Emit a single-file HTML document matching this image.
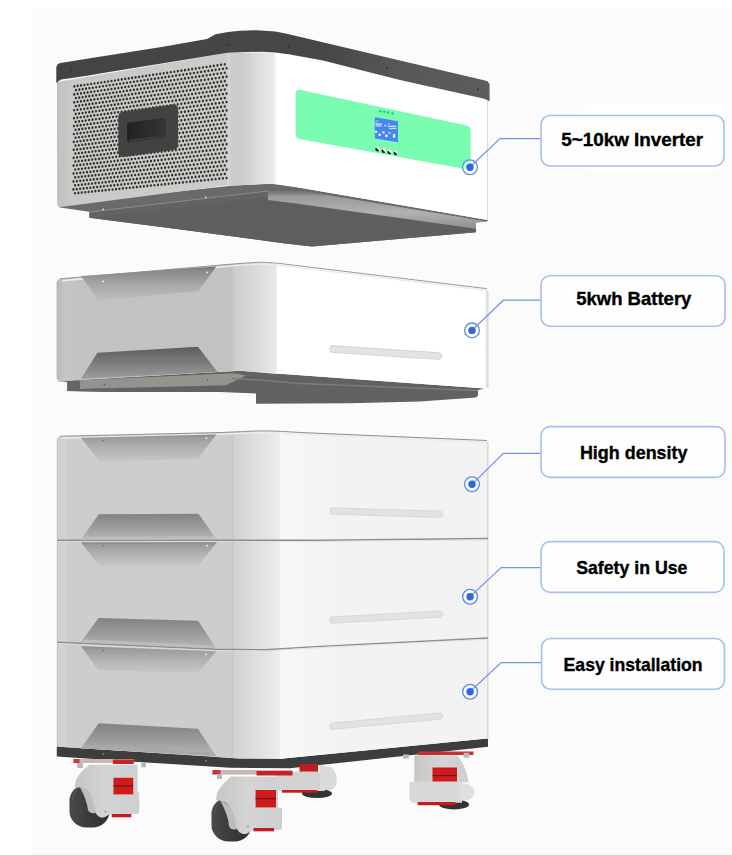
<!DOCTYPE html>
<html><head><meta charset="utf-8"><title>Inverter and battery stack</title>
<style>
html,body{margin:0;padding:0;background:#fff;}
body{width:732px;height:855px;overflow:hidden;font-family:"Liberation Sans",sans-serif;}
svg{display:block;}
</style></head><body>
<svg width="732" height="855" viewBox="0 0 732 855"><defs><linearGradient id="gBand" x1="57" y1="0" x2="490" y2="0" gradientUnits="userSpaceOnUse"><stop offset="0" stop-color="#444444"/><stop offset="0.62" stop-color="#474747"/><stop offset="0.78" stop-color="#575757"/><stop offset="1" stop-color="#5d5d5d"/></linearGradient><linearGradient id="gInvLeft" x1="57" y1="0" x2="228" y2="0" gradientUnits="userSpaceOnUse"><stop offset="0" stop-color="#b9b9b9"/><stop offset="0.01" stop-color="#c2c2c2"/><stop offset="0.08" stop-color="#c8c8c8"/><stop offset="1" stop-color="#cdcdcd"/></linearGradient><linearGradient id="gInvCorner" x1="228" y1="0" x2="276" y2="0" gradientUnits="userSpaceOnUse"><stop offset="0" stop-color="#d6d6d6"/><stop offset="0.08" stop-color="#cbcbcb"/><stop offset="0.35" stop-color="#cdcdcd"/><stop offset="0.65" stop-color="#dedede"/><stop offset="0.95" stop-color="#ececec"/><stop offset="1" stop-color="#f8f8f8"/></linearGradient><linearGradient id="gBatLeft" x1="56.5" y1="0" x2="240" y2="0" gradientUnits="userSpaceOnUse"><stop offset="0" stop-color="#b0b0b0"/><stop offset="0.012" stop-color="#bdbdbd"/><stop offset="0.05" stop-color="#c5c5c5"/><stop offset="0.15" stop-color="#c2c2c2"/><stop offset="1" stop-color="#c2c2c2"/></linearGradient><linearGradient id="gBatCorner" x1="222" y1="0" x2="277.5" y2="0" gradientUnits="userSpaceOnUse"><stop offset="0" stop-color="#c2c2c2"/><stop offset="0.18" stop-color="#c2c2c2"/><stop offset="0.2" stop-color="#c6c6c6"/><stop offset="0.23" stop-color="#cdcdcd"/><stop offset="0.6" stop-color="#dadada"/><stop offset="0.97" stop-color="#e8e8e8"/><stop offset="1" stop-color="#f6f6f6"/></linearGradient><linearGradient id="gStkLeft" x1="56.8" y1="0" x2="232" y2="0" gradientUnits="userSpaceOnUse"><stop offset="0" stop-color="#bdbdbd"/><stop offset="0.01" stop-color="#d0d0d0"/><stop offset="0.05" stop-color="#d3d3d3"/><stop offset="0.065" stop-color="#cdcdcd"/><stop offset="1" stop-color="#cdcdcd"/></linearGradient><linearGradient id="gStkCorner" x1="231" y1="0" x2="280.5" y2="0" gradientUnits="userSpaceOnUse"><stop offset="0" stop-color="#cbcbcb"/><stop offset="0.03" stop-color="#c8c8c8"/><stop offset="0.07" stop-color="#d2d2d2"/><stop offset="0.4" stop-color="#dcdcdc"/><stop offset="0.7" stop-color="#e4e4e4"/><stop offset="0.98" stop-color="#ececec"/><stop offset="1" stop-color="#f6f6f6"/></linearGradient><linearGradient id="gStkFront" x1="280" y1="0" x2="488" y2="0" gradientUnits="userSpaceOnUse"><stop offset="0" stop-color="#f7f7f7"/><stop offset="0.25" stop-color="#f3f3f3"/><stop offset="1" stop-color="#f2f2f2"/></linearGradient><linearGradient id="gRedge" x1="0" y1="0" x2="1" y2="0"><stop offset="0" stop-color="#f4f4f4"/><stop offset="0.5" stop-color="#e2e2e2"/><stop offset="1" stop-color="#d2d2d2"/></linearGradient><linearGradient id="gHandle" x1="127" y1="0" x2="166" y2="0" gradientUnits="userSpaceOnUse"><stop offset="0" stop-color="#222222"/><stop offset="0.45" stop-color="#2a2a2a"/><stop offset="1" stop-color="#363636"/></linearGradient><linearGradient id="gTT" x1="0" y1="0" x2="0" y2="1"><stop offset="0" stop-color="#888888"/><stop offset="0.12" stop-color="#9c9c9c"/><stop offset="0.55" stop-color="#b4b4b4"/><stop offset="1" stop-color="#c6c6c6"/></linearGradient><linearGradient id="gTTb" x1="0" y1="0" x2="0" y2="1"><stop offset="0" stop-color="#727272"/><stop offset="0.12" stop-color="#888888"/><stop offset="0.55" stop-color="#a8a8a8"/><stop offset="1" stop-color="#bebebe"/></linearGradient><linearGradient id="gTB" x1="0" y1="0" x2="0" y2="1"><stop offset="0" stop-color="#828282"/><stop offset="0.5" stop-color="#9a9a9a"/><stop offset="0.88" stop-color="#b0b0b0"/><stop offset="1" stop-color="#bcbcbc"/></linearGradient><linearGradient id="gTBb" x1="0" y1="0" x2="0" y2="1"><stop offset="0" stop-color="#5c5c5c"/><stop offset="0.5" stop-color="#7c7c7c"/><stop offset="1" stop-color="#9c9c9c"/></linearGradient><linearGradient id="gLip" x1="0" y1="0" x2="0" y2="1"><stop offset="0" stop-color="#5e5e5e"/><stop offset="0.2" stop-color="#9a9a9a"/><stop offset="0.6" stop-color="#b2b2b2"/><stop offset="1" stop-color="#8e8e8e"/></linearGradient>
 <pattern id="grill" x="0" y="0" width="3.45" height="8" patternUnits="userSpaceOnUse" patternTransform="translate(74,84) skewY(-7.6)">
  <rect width="3.45" height="8" fill="#d2d2d2"/>
  <circle cx="0.9" cy="1.2" r="1.12" fill="#3b3d2c"/>
  <circle cx="2.625" cy="5.2" r="1.12" fill="#3b3d2c"/>
 </pattern>
 <radialGradient id="gBtn" cx="0.4" cy="0.4" r="0.6">
  <stop offset="0" stop-color="#ffffff"/>
  <stop offset="1" stop-color="#1a1a1a"/>
 </radialGradient>
 <linearGradient id="gBtn2" x1="0.2" y1="0.8" x2="0.8" y2="0.2">
  <stop offset="0" stop-color="#111"/><stop offset="0.45" stop-color="#222"/><stop offset="0.55" stop-color="#f4f4f4"/><stop offset="1" stop-color="#ffffff"/>
 </linearGradient>
 <linearGradient id="gTire" x1="0" y1="0" x2="1" y2="0">
  <stop offset="0" stop-color="#4a4a4a"/><stop offset="0.5" stop-color="#3a3a3a"/><stop offset="1" stop-color="#2e2e2e"/>
 </linearGradient>
 <linearGradient id="gBrk" x1="0" y1="0" x2="1" y2="0">
  <stop offset="0" stop-color="#c6c6c6"/><stop offset="0.5" stop-color="#d4d4d4"/><stop offset="1" stop-color="#cfcfcf"/>
 </linearGradient>
</defs>
<rect x="0" y="0" width="732" height="855" fill="#ffffff"/>
<rect x="32" y="8" width="700" height="847" fill="#fbfbfb"/>
<rect x="32" y="854" width="700" height="1" fill="#f4f4f4"/>
<rect x="582" y="103" width="143" height="68" rx="9" fill="#ffffff"/>
<polygon points="57.7,205.0 130.0,196.5 233.7,185.4 271.0,183.7 300.0,187.8 488.0,220.0 487.0,221.5 476.0,222.5 476.0,232.3 312.0,246.5 285.0,243.4 182.5,229.8 89.3,217.8 89.3,211.8 59.8,207.4" fill="#6a6a6a"/>
<polyline points="89.5,212.0 268.0,191.0" fill="none" stroke="#8a8a8a" stroke-width="1"/>
<polygon points="89.5,213.0 245.0,194.5 262.0,192.5 270.0,193.0 262.0,197.0 240.0,200.5 89.5,217.5" fill="#636363"/>
<polygon points="89.3,217.5 240.0,200.5 262.0,197.0 272.0,196.5 300.0,204.0 476.0,228.7 476.0,232.3 312.0,246.5 285.0,243.4 182.5,229.8 89.3,217.8" fill="#5f5f5f"/>
<circle cx="103.2" cy="209.3" r="0.9" fill="#e8e8e8"/>
<circle cx="205.7" cy="197.3" r="0.9" fill="#e8e8e8"/>
<polygon points="268.0,188.5 300.0,190.5 487.0,221.5 476.0,222.5 476.0,228.7 300.0,204.0 268.0,200.0" fill="url(#gLip)"/>
<path d="M57,82 L228,52.8 L228,185.3 L61,207 Q57.2,207.3 57.2,203 Z" fill="url(#gInvLeft)"/>
<polygon points="227.5,52.8 276.5,52.5 276.5,183.6 271.0,183.7 233.7,185.4 227.5,185.4" fill="url(#gInvCorner)"/>
<polygon points="276.0,52.5 489.0,101.0 489.0,220.2 300.0,187.8 276.0,183.6" fill="#ffffff"/>
<line x1="487.6" y1="101" x2="487.6" y2="220" stroke="#d9d9d9" stroke-width="1.2"/>
<polygon points="73.5,84.6 227.5,61.8 227.5,180.0 72.5,195.5" fill="#cbcbce"/>
<path d="M73.20,86.46a1.12,1.35 0 1,0 2.24,0a1.12,1.35 0 1,0 -2.24,0M76.54,85.97a1.12,1.35 0 1,0 2.24,0a1.12,1.35 0 1,0 -2.24,0M79.90,85.47a1.12,1.35 0 1,0 2.24,0a1.12,1.35 0 1,0 -2.24,0M83.26,84.98a1.12,1.35 0 1,0 2.24,0a1.12,1.35 0 1,0 -2.24,0M86.62,84.48a1.12,1.35 0 1,0 2.24,0a1.12,1.35 0 1,0 -2.24,0M90.00,83.98a1.12,1.35 0 1,0 2.24,0a1.12,1.35 0 1,0 -2.24,0M93.38,83.49a1.12,1.35 0 1,0 2.24,0a1.12,1.35 0 1,0 -2.24,0M96.77,82.99a1.12,1.35 0 1,0 2.24,0a1.12,1.35 0 1,0 -2.24,0M100.16,82.49a1.12,1.35 0 1,0 2.24,0a1.12,1.35 0 1,0 -2.24,0M103.57,81.99a1.12,1.35 0 1,0 2.24,0a1.12,1.35 0 1,0 -2.24,0M106.98,81.49a1.12,1.35 0 1,0 2.24,0a1.12,1.35 0 1,0 -2.24,0M110.40,80.98a1.12,1.35 0 1,0 2.24,0a1.12,1.35 0 1,0 -2.24,0M113.82,80.48a1.12,1.35 0 1,0 2.24,0a1.12,1.35 0 1,0 -2.24,0M117.26,79.97a1.12,1.35 0 1,0 2.24,0a1.12,1.35 0 1,0 -2.24,0M120.70,79.47a1.12,1.35 0 1,0 2.24,0a1.12,1.35 0 1,0 -2.24,0M124.14,78.96a1.12,1.35 0 1,0 2.24,0a1.12,1.35 0 1,0 -2.24,0M127.60,78.45a1.12,1.35 0 1,0 2.24,0a1.12,1.35 0 1,0 -2.24,0M131.06,77.94a1.12,1.35 0 1,0 2.24,0a1.12,1.35 0 1,0 -2.24,0M134.53,77.43a1.12,1.35 0 1,0 2.24,0a1.12,1.35 0 1,0 -2.24,0M138.01,76.92a1.12,1.35 0 1,0 2.24,0a1.12,1.35 0 1,0 -2.24,0M141.49,76.41a1.12,1.35 0 1,0 2.24,0a1.12,1.35 0 1,0 -2.24,0M144.98,75.89a1.12,1.35 0 1,0 2.24,0a1.12,1.35 0 1,0 -2.24,0M148.48,75.38a1.12,1.35 0 1,0 2.24,0a1.12,1.35 0 1,0 -2.24,0M151.99,74.86a1.12,1.35 0 1,0 2.24,0a1.12,1.35 0 1,0 -2.24,0M155.50,74.34a1.12,1.35 0 1,0 2.24,0a1.12,1.35 0 1,0 -2.24,0M159.02,73.83a1.12,1.35 0 1,0 2.24,0a1.12,1.35 0 1,0 -2.24,0M162.55,73.31a1.12,1.35 0 1,0 2.24,0a1.12,1.35 0 1,0 -2.24,0M166.08,72.79a1.12,1.35 0 1,0 2.24,0a1.12,1.35 0 1,0 -2.24,0M169.63,72.26a1.12,1.35 0 1,0 2.24,0a1.12,1.35 0 1,0 -2.24,0M173.18,71.74a1.12,1.35 0 1,0 2.24,0a1.12,1.35 0 1,0 -2.24,0M176.73,71.22a1.12,1.35 0 1,0 2.24,0a1.12,1.35 0 1,0 -2.24,0M180.30,70.69a1.12,1.35 0 1,0 2.24,0a1.12,1.35 0 1,0 -2.24,0M183.87,70.17a1.12,1.35 0 1,0 2.24,0a1.12,1.35 0 1,0 -2.24,0M187.45,69.64a1.12,1.35 0 1,0 2.24,0a1.12,1.35 0 1,0 -2.24,0M191.03,69.11a1.12,1.35 0 1,0 2.24,0a1.12,1.35 0 1,0 -2.24,0M194.63,68.58a1.12,1.35 0 1,0 2.24,0a1.12,1.35 0 1,0 -2.24,0M198.23,68.05a1.12,1.35 0 1,0 2.24,0a1.12,1.35 0 1,0 -2.24,0M201.84,67.52a1.12,1.35 0 1,0 2.24,0a1.12,1.35 0 1,0 -2.24,0M205.45,66.99a1.12,1.35 0 1,0 2.24,0a1.12,1.35 0 1,0 -2.24,0M209.07,66.46a1.12,1.35 0 1,0 2.24,0a1.12,1.35 0 1,0 -2.24,0M212.70,65.92a1.12,1.35 0 1,0 2.24,0a1.12,1.35 0 1,0 -2.24,0M216.34,65.39a1.12,1.35 0 1,0 2.24,0a1.12,1.35 0 1,0 -2.24,0M219.98,64.85a1.12,1.35 0 1,0 2.24,0a1.12,1.35 0 1,0 -2.24,0M223.64,64.31a1.12,1.35 0 1,0 2.24,0a1.12,1.35 0 1,0 -2.24,0M74.83,90.18a1.12,1.35 0 1,0 2.24,0a1.12,1.35 0 1,0 -2.24,0M78.18,89.69a1.12,1.35 0 1,0 2.24,0a1.12,1.35 0 1,0 -2.24,0M81.54,89.20a1.12,1.35 0 1,0 2.24,0a1.12,1.35 0 1,0 -2.24,0M84.91,88.71a1.12,1.35 0 1,0 2.24,0a1.12,1.35 0 1,0 -2.24,0M88.28,88.22a1.12,1.35 0 1,0 2.24,0a1.12,1.35 0 1,0 -2.24,0M91.66,87.73a1.12,1.35 0 1,0 2.24,0a1.12,1.35 0 1,0 -2.24,0M95.04,87.24a1.12,1.35 0 1,0 2.24,0a1.12,1.35 0 1,0 -2.24,0M98.44,86.74a1.12,1.35 0 1,0 2.24,0a1.12,1.35 0 1,0 -2.24,0M101.84,86.25a1.12,1.35 0 1,0 2.24,0a1.12,1.35 0 1,0 -2.24,0M105.25,85.75a1.12,1.35 0 1,0 2.24,0a1.12,1.35 0 1,0 -2.24,0M108.66,85.26a1.12,1.35 0 1,0 2.24,0a1.12,1.35 0 1,0 -2.24,0M112.08,84.76a1.12,1.35 0 1,0 2.24,0a1.12,1.35 0 1,0 -2.24,0M115.51,84.26a1.12,1.35 0 1,0 2.24,0a1.12,1.35 0 1,0 -2.24,0M118.95,83.76a1.12,1.35 0 1,0 2.24,0a1.12,1.35 0 1,0 -2.24,0M122.40,83.26a1.12,1.35 0 1,0 2.24,0a1.12,1.35 0 1,0 -2.24,0M125.85,82.76a1.12,1.35 0 1,0 2.24,0a1.12,1.35 0 1,0 -2.24,0M129.31,82.25a1.12,1.35 0 1,0 2.24,0a1.12,1.35 0 1,0 -2.24,0M132.77,81.75a1.12,1.35 0 1,0 2.24,0a1.12,1.35 0 1,0 -2.24,0M136.25,81.24a1.12,1.35 0 1,0 2.24,0a1.12,1.35 0 1,0 -2.24,0M139.73,80.74a1.12,1.35 0 1,0 2.24,0a1.12,1.35 0 1,0 -2.24,0M143.22,80.23a1.12,1.35 0 1,0 2.24,0a1.12,1.35 0 1,0 -2.24,0M146.71,79.72a1.12,1.35 0 1,0 2.24,0a1.12,1.35 0 1,0 -2.24,0M150.22,79.21a1.12,1.35 0 1,0 2.24,0a1.12,1.35 0 1,0 -2.24,0M153.73,78.70a1.12,1.35 0 1,0 2.24,0a1.12,1.35 0 1,0 -2.24,0M157.24,78.19a1.12,1.35 0 1,0 2.24,0a1.12,1.35 0 1,0 -2.24,0M160.77,77.68a1.12,1.35 0 1,0 2.24,0a1.12,1.35 0 1,0 -2.24,0M164.30,77.16a1.12,1.35 0 1,0 2.24,0a1.12,1.35 0 1,0 -2.24,0M167.84,76.65a1.12,1.35 0 1,0 2.24,0a1.12,1.35 0 1,0 -2.24,0M171.39,76.13a1.12,1.35 0 1,0 2.24,0a1.12,1.35 0 1,0 -2.24,0M174.94,75.61a1.12,1.35 0 1,0 2.24,0a1.12,1.35 0 1,0 -2.24,0M178.50,75.10a1.12,1.35 0 1,0 2.24,0a1.12,1.35 0 1,0 -2.24,0M182.07,74.58a1.12,1.35 0 1,0 2.24,0a1.12,1.35 0 1,0 -2.24,0M185.65,74.06a1.12,1.35 0 1,0 2.24,0a1.12,1.35 0 1,0 -2.24,0M189.23,73.54a1.12,1.35 0 1,0 2.24,0a1.12,1.35 0 1,0 -2.24,0M192.82,73.01a1.12,1.35 0 1,0 2.24,0a1.12,1.35 0 1,0 -2.24,0M196.42,72.49a1.12,1.35 0 1,0 2.24,0a1.12,1.35 0 1,0 -2.24,0M200.02,71.97a1.12,1.35 0 1,0 2.24,0a1.12,1.35 0 1,0 -2.24,0M203.64,71.44a1.12,1.35 0 1,0 2.24,0a1.12,1.35 0 1,0 -2.24,0M207.26,70.91a1.12,1.35 0 1,0 2.24,0a1.12,1.35 0 1,0 -2.24,0M210.88,70.39a1.12,1.35 0 1,0 2.24,0a1.12,1.35 0 1,0 -2.24,0M214.52,69.86a1.12,1.35 0 1,0 2.24,0a1.12,1.35 0 1,0 -2.24,0M218.16,69.33a1.12,1.35 0 1,0 2.24,0a1.12,1.35 0 1,0 -2.24,0M221.81,68.80a1.12,1.35 0 1,0 2.24,0a1.12,1.35 0 1,0 -2.24,0M225.46,68.27a1.12,1.35 0 1,0 2.24,0a1.12,1.35 0 1,0 -2.24,0M73.13,94.38a1.12,1.35 0 1,0 2.24,0a1.12,1.35 0 1,0 -2.24,0M76.47,93.90a1.12,1.35 0 1,0 2.24,0a1.12,1.35 0 1,0 -2.24,0M79.83,93.42a1.12,1.35 0 1,0 2.24,0a1.12,1.35 0 1,0 -2.24,0M83.19,92.94a1.12,1.35 0 1,0 2.24,0a1.12,1.35 0 1,0 -2.24,0M86.56,92.45a1.12,1.35 0 1,0 2.24,0a1.12,1.35 0 1,0 -2.24,0M89.93,91.97a1.12,1.35 0 1,0 2.24,0a1.12,1.35 0 1,0 -2.24,0M93.32,91.48a1.12,1.35 0 1,0 2.24,0a1.12,1.35 0 1,0 -2.24,0M96.71,90.99a1.12,1.35 0 1,0 2.24,0a1.12,1.35 0 1,0 -2.24,0M100.11,90.50a1.12,1.35 0 1,0 2.24,0a1.12,1.35 0 1,0 -2.24,0M103.51,90.01a1.12,1.35 0 1,0 2.24,0a1.12,1.35 0 1,0 -2.24,0M106.92,89.52a1.12,1.35 0 1,0 2.24,0a1.12,1.35 0 1,0 -2.24,0M110.34,89.03a1.12,1.35 0 1,0 2.24,0a1.12,1.35 0 1,0 -2.24,0M113.77,88.54a1.12,1.35 0 1,0 2.24,0a1.12,1.35 0 1,0 -2.24,0M117.21,88.05a1.12,1.35 0 1,0 2.24,0a1.12,1.35 0 1,0 -2.24,0M120.65,87.55a1.12,1.35 0 1,0 2.24,0a1.12,1.35 0 1,0 -2.24,0M124.10,87.06a1.12,1.35 0 1,0 2.24,0a1.12,1.35 0 1,0 -2.24,0M127.55,86.56a1.12,1.35 0 1,0 2.24,0a1.12,1.35 0 1,0 -2.24,0M131.02,86.06a1.12,1.35 0 1,0 2.24,0a1.12,1.35 0 1,0 -2.24,0M134.49,85.56a1.12,1.35 0 1,0 2.24,0a1.12,1.35 0 1,0 -2.24,0M137.97,85.06a1.12,1.35 0 1,0 2.24,0a1.12,1.35 0 1,0 -2.24,0M141.45,84.56a1.12,1.35 0 1,0 2.24,0a1.12,1.35 0 1,0 -2.24,0M144.94,84.06a1.12,1.35 0 1,0 2.24,0a1.12,1.35 0 1,0 -2.24,0M148.45,83.56a1.12,1.35 0 1,0 2.24,0a1.12,1.35 0 1,0 -2.24,0M151.95,83.05a1.12,1.35 0 1,0 2.24,0a1.12,1.35 0 1,0 -2.24,0M155.47,82.55a1.12,1.35 0 1,0 2.24,0a1.12,1.35 0 1,0 -2.24,0M158.99,82.04a1.12,1.35 0 1,0 2.24,0a1.12,1.35 0 1,0 -2.24,0M162.52,81.53a1.12,1.35 0 1,0 2.24,0a1.12,1.35 0 1,0 -2.24,0M166.06,81.02a1.12,1.35 0 1,0 2.24,0a1.12,1.35 0 1,0 -2.24,0M169.60,80.51a1.12,1.35 0 1,0 2.24,0a1.12,1.35 0 1,0 -2.24,0M173.15,80.00a1.12,1.35 0 1,0 2.24,0a1.12,1.35 0 1,0 -2.24,0M176.71,79.49a1.12,1.35 0 1,0 2.24,0a1.12,1.35 0 1,0 -2.24,0M180.28,78.98a1.12,1.35 0 1,0 2.24,0a1.12,1.35 0 1,0 -2.24,0M183.85,78.47a1.12,1.35 0 1,0 2.24,0a1.12,1.35 0 1,0 -2.24,0M187.43,77.95a1.12,1.35 0 1,0 2.24,0a1.12,1.35 0 1,0 -2.24,0M191.02,77.44a1.12,1.35 0 1,0 2.24,0a1.12,1.35 0 1,0 -2.24,0M194.61,76.92a1.12,1.35 0 1,0 2.24,0a1.12,1.35 0 1,0 -2.24,0M198.21,76.40a1.12,1.35 0 1,0 2.24,0a1.12,1.35 0 1,0 -2.24,0M201.82,75.88a1.12,1.35 0 1,0 2.24,0a1.12,1.35 0 1,0 -2.24,0M205.44,75.36a1.12,1.35 0 1,0 2.24,0a1.12,1.35 0 1,0 -2.24,0M209.07,74.84a1.12,1.35 0 1,0 2.24,0a1.12,1.35 0 1,0 -2.24,0M212.70,74.32a1.12,1.35 0 1,0 2.24,0a1.12,1.35 0 1,0 -2.24,0M216.34,73.80a1.12,1.35 0 1,0 2.24,0a1.12,1.35 0 1,0 -2.24,0M219.98,73.27a1.12,1.35 0 1,0 2.24,0a1.12,1.35 0 1,0 -2.24,0M223.64,72.75a1.12,1.35 0 1,0 2.24,0a1.12,1.35 0 1,0 -2.24,0M74.76,98.11a1.12,1.35 0 1,0 2.24,0a1.12,1.35 0 1,0 -2.24,0M78.12,97.63a1.12,1.35 0 1,0 2.24,0a1.12,1.35 0 1,0 -2.24,0M81.47,97.15a1.12,1.35 0 1,0 2.24,0a1.12,1.35 0 1,0 -2.24,0M84.84,96.68a1.12,1.35 0 1,0 2.24,0a1.12,1.35 0 1,0 -2.24,0M88.21,96.20a1.12,1.35 0 1,0 2.24,0a1.12,1.35 0 1,0 -2.24,0M91.59,95.72a1.12,1.35 0 1,0 2.24,0a1.12,1.35 0 1,0 -2.24,0M94.98,95.24a1.12,1.35 0 1,0 2.24,0a1.12,1.35 0 1,0 -2.24,0M98.38,94.75a1.12,1.35 0 1,0 2.24,0a1.12,1.35 0 1,0 -2.24,0M101.78,94.27a1.12,1.35 0 1,0 2.24,0a1.12,1.35 0 1,0 -2.24,0M105.19,93.79a1.12,1.35 0 1,0 2.24,0a1.12,1.35 0 1,0 -2.24,0M108.61,93.30a1.12,1.35 0 1,0 2.24,0a1.12,1.35 0 1,0 -2.24,0M112.03,92.81a1.12,1.35 0 1,0 2.24,0a1.12,1.35 0 1,0 -2.24,0M115.46,92.33a1.12,1.35 0 1,0 2.24,0a1.12,1.35 0 1,0 -2.24,0M118.90,91.84a1.12,1.35 0 1,0 2.24,0a1.12,1.35 0 1,0 -2.24,0M122.35,91.35a1.12,1.35 0 1,0 2.24,0a1.12,1.35 0 1,0 -2.24,0M125.80,90.86a1.12,1.35 0 1,0 2.24,0a1.12,1.35 0 1,0 -2.24,0M129.26,90.37a1.12,1.35 0 1,0 2.24,0a1.12,1.35 0 1,0 -2.24,0M132.73,89.87a1.12,1.35 0 1,0 2.24,0a1.12,1.35 0 1,0 -2.24,0M136.21,89.38a1.12,1.35 0 1,0 2.24,0a1.12,1.35 0 1,0 -2.24,0M139.69,88.89a1.12,1.35 0 1,0 2.24,0a1.12,1.35 0 1,0 -2.24,0M143.18,88.39a1.12,1.35 0 1,0 2.24,0a1.12,1.35 0 1,0 -2.24,0M146.68,87.89a1.12,1.35 0 1,0 2.24,0a1.12,1.35 0 1,0 -2.24,0M150.18,87.40a1.12,1.35 0 1,0 2.24,0a1.12,1.35 0 1,0 -2.24,0M153.69,86.90a1.12,1.35 0 1,0 2.24,0a1.12,1.35 0 1,0 -2.24,0M157.21,86.40a1.12,1.35 0 1,0 2.24,0a1.12,1.35 0 1,0 -2.24,0M160.74,85.90a1.12,1.35 0 1,0 2.24,0a1.12,1.35 0 1,0 -2.24,0M164.27,85.40a1.12,1.35 0 1,0 2.24,0a1.12,1.35 0 1,0 -2.24,0M167.81,84.89a1.12,1.35 0 1,0 2.24,0a1.12,1.35 0 1,0 -2.24,0M171.36,84.39a1.12,1.35 0 1,0 2.24,0a1.12,1.35 0 1,0 -2.24,0M174.92,83.88a1.12,1.35 0 1,0 2.24,0a1.12,1.35 0 1,0 -2.24,0M178.48,83.38a1.12,1.35 0 1,0 2.24,0a1.12,1.35 0 1,0 -2.24,0M182.05,82.87a1.12,1.35 0 1,0 2.24,0a1.12,1.35 0 1,0 -2.24,0M185.63,82.36a1.12,1.35 0 1,0 2.24,0a1.12,1.35 0 1,0 -2.24,0M189.21,81.85a1.12,1.35 0 1,0 2.24,0a1.12,1.35 0 1,0 -2.24,0M192.81,81.34a1.12,1.35 0 1,0 2.24,0a1.12,1.35 0 1,0 -2.24,0M196.41,80.83a1.12,1.35 0 1,0 2.24,0a1.12,1.35 0 1,0 -2.24,0M200.01,80.32a1.12,1.35 0 1,0 2.24,0a1.12,1.35 0 1,0 -2.24,0M203.63,79.81a1.12,1.35 0 1,0 2.24,0a1.12,1.35 0 1,0 -2.24,0M207.25,79.29a1.12,1.35 0 1,0 2.24,0a1.12,1.35 0 1,0 -2.24,0M210.88,78.78a1.12,1.35 0 1,0 2.24,0a1.12,1.35 0 1,0 -2.24,0M214.51,78.26a1.12,1.35 0 1,0 2.24,0a1.12,1.35 0 1,0 -2.24,0M218.16,77.74a1.12,1.35 0 1,0 2.24,0a1.12,1.35 0 1,0 -2.24,0M221.81,77.22a1.12,1.35 0 1,0 2.24,0a1.12,1.35 0 1,0 -2.24,0M225.46,76.71a1.12,1.35 0 1,0 2.24,0a1.12,1.35 0 1,0 -2.24,0M73.06,102.31a1.12,1.35 0 1,0 2.24,0a1.12,1.35 0 1,0 -2.24,0M76.40,101.84a1.12,1.35 0 1,0 2.24,0a1.12,1.35 0 1,0 -2.24,0M79.76,101.37a1.12,1.35 0 1,0 2.24,0a1.12,1.35 0 1,0 -2.24,0M83.12,100.89a1.12,1.35 0 1,0 2.24,0a1.12,1.35 0 1,0 -2.24,0M86.49,100.42a1.12,1.35 0 1,0 2.24,0a1.12,1.35 0 1,0 -2.24,0M89.87,99.95a1.12,1.35 0 1,0 2.24,0a1.12,1.35 0 1,0 -2.24,0M93.26,99.47a1.12,1.35 0 1,0 2.24,0a1.12,1.35 0 1,0 -2.24,0M96.65,99.00a1.12,1.35 0 1,0 2.24,0a1.12,1.35 0 1,0 -2.24,0M100.05,98.52a1.12,1.35 0 1,0 2.24,0a1.12,1.35 0 1,0 -2.24,0M103.45,98.04a1.12,1.35 0 1,0 2.24,0a1.12,1.35 0 1,0 -2.24,0M106.87,97.56a1.12,1.35 0 1,0 2.24,0a1.12,1.35 0 1,0 -2.24,0M110.29,97.08a1.12,1.35 0 1,0 2.24,0a1.12,1.35 0 1,0 -2.24,0M113.72,96.60a1.12,1.35 0 1,0 2.24,0a1.12,1.35 0 1,0 -2.24,0M117.16,96.12a1.12,1.35 0 1,0 2.24,0a1.12,1.35 0 1,0 -2.24,0M120.60,95.64a1.12,1.35 0 1,0 2.24,0a1.12,1.35 0 1,0 -2.24,0M124.05,95.15a1.12,1.35 0 1,0 2.24,0a1.12,1.35 0 1,0 -2.24,0M127.51,94.67a1.12,1.35 0 1,0 2.24,0a1.12,1.35 0 1,0 -2.24,0M130.97,94.18a1.12,1.35 0 1,0 2.24,0a1.12,1.35 0 1,0 -2.24,0M134.45,93.69a1.12,1.35 0 1,0 2.24,0a1.12,1.35 0 1,0 -2.24,0M137.93,93.21a1.12,1.35 0 1,0 2.24,0a1.12,1.35 0 1,0 -2.24,0M141.41,92.72a1.12,1.35 0 1,0 2.24,0a1.12,1.35 0 1,0 -2.24,0M144.91,92.23a1.12,1.35 0 1,0 2.24,0a1.12,1.35 0 1,0 -2.24,0M148.41,91.73a1.12,1.35 0 1,0 2.24,0a1.12,1.35 0 1,0 -2.24,0M151.92,91.24a1.12,1.35 0 1,0 2.24,0a1.12,1.35 0 1,0 -2.24,0M155.43,90.75a1.12,1.35 0 1,0 2.24,0a1.12,1.35 0 1,0 -2.24,0M158.96,90.25a1.12,1.35 0 1,0 2.24,0a1.12,1.35 0 1,0 -2.24,0M162.49,89.76a1.12,1.35 0 1,0 2.24,0a1.12,1.35 0 1,0 -2.24,0M166.03,89.26a1.12,1.35 0 1,0 2.24,0a1.12,1.35 0 1,0 -2.24,0M169.57,88.77a1.12,1.35 0 1,0 2.24,0a1.12,1.35 0 1,0 -2.24,0M173.13,88.27a1.12,1.35 0 1,0 2.24,0a1.12,1.35 0 1,0 -2.24,0M176.69,87.77a1.12,1.35 0 1,0 2.24,0a1.12,1.35 0 1,0 -2.24,0M180.25,87.27a1.12,1.35 0 1,0 2.24,0a1.12,1.35 0 1,0 -2.24,0M183.83,86.77a1.12,1.35 0 1,0 2.24,0a1.12,1.35 0 1,0 -2.24,0M187.41,86.26a1.12,1.35 0 1,0 2.24,0a1.12,1.35 0 1,0 -2.24,0M191.00,85.76a1.12,1.35 0 1,0 2.24,0a1.12,1.35 0 1,0 -2.24,0M194.60,85.26a1.12,1.35 0 1,0 2.24,0a1.12,1.35 0 1,0 -2.24,0M198.20,84.75a1.12,1.35 0 1,0 2.24,0a1.12,1.35 0 1,0 -2.24,0M201.81,84.24a1.12,1.35 0 1,0 2.24,0a1.12,1.35 0 1,0 -2.24,0M205.43,83.74a1.12,1.35 0 1,0 2.24,0a1.12,1.35 0 1,0 -2.24,0M209.06,83.23a1.12,1.35 0 1,0 2.24,0a1.12,1.35 0 1,0 -2.24,0M212.69,82.72a1.12,1.35 0 1,0 2.24,0a1.12,1.35 0 1,0 -2.24,0M216.33,82.21a1.12,1.35 0 1,0 2.24,0a1.12,1.35 0 1,0 -2.24,0M219.98,81.69a1.12,1.35 0 1,0 2.24,0a1.12,1.35 0 1,0 -2.24,0M223.63,81.18a1.12,1.35 0 1,0 2.24,0a1.12,1.35 0 1,0 -2.24,0M74.69,106.04a1.12,1.35 0 1,0 2.24,0a1.12,1.35 0 1,0 -2.24,0M78.05,105.57a1.12,1.35 0 1,0 2.24,0a1.12,1.35 0 1,0 -2.24,0M81.41,105.11a1.12,1.35 0 1,0 2.24,0a1.12,1.35 0 1,0 -2.24,0M84.77,104.64a1.12,1.35 0 1,0 2.24,0a1.12,1.35 0 1,0 -2.24,0M88.15,104.17a1.12,1.35 0 1,0 2.24,0a1.12,1.35 0 1,0 -2.24,0M91.53,103.70a1.12,1.35 0 1,0 2.24,0a1.12,1.35 0 1,0 -2.24,0M94.92,103.23a1.12,1.35 0 1,0 2.24,0a1.12,1.35 0 1,0 -2.24,0M98.32,102.76a1.12,1.35 0 1,0 2.24,0a1.12,1.35 0 1,0 -2.24,0M101.72,102.29a1.12,1.35 0 1,0 2.24,0a1.12,1.35 0 1,0 -2.24,0M105.13,101.82a1.12,1.35 0 1,0 2.24,0a1.12,1.35 0 1,0 -2.24,0M108.55,101.34a1.12,1.35 0 1,0 2.24,0a1.12,1.35 0 1,0 -2.24,0M111.98,100.87a1.12,1.35 0 1,0 2.24,0a1.12,1.35 0 1,0 -2.24,0M115.41,100.39a1.12,1.35 0 1,0 2.24,0a1.12,1.35 0 1,0 -2.24,0M118.85,99.92a1.12,1.35 0 1,0 2.24,0a1.12,1.35 0 1,0 -2.24,0M122.30,99.44a1.12,1.35 0 1,0 2.24,0a1.12,1.35 0 1,0 -2.24,0M125.75,98.96a1.12,1.35 0 1,0 2.24,0a1.12,1.35 0 1,0 -2.24,0M129.22,98.48a1.12,1.35 0 1,0 2.24,0a1.12,1.35 0 1,0 -2.24,0M132.69,98.00a1.12,1.35 0 1,0 2.24,0a1.12,1.35 0 1,0 -2.24,0M136.16,97.52a1.12,1.35 0 1,0 2.24,0a1.12,1.35 0 1,0 -2.24,0M139.65,97.04a1.12,1.35 0 1,0 2.24,0a1.12,1.35 0 1,0 -2.24,0M143.14,96.55a1.12,1.35 0 1,0 2.24,0a1.12,1.35 0 1,0 -2.24,0M146.64,96.07a1.12,1.35 0 1,0 2.24,0a1.12,1.35 0 1,0 -2.24,0M150.14,95.58a1.12,1.35 0 1,0 2.24,0a1.12,1.35 0 1,0 -2.24,0M153.66,95.09a1.12,1.35 0 1,0 2.24,0a1.12,1.35 0 1,0 -2.24,0M157.18,94.61a1.12,1.35 0 1,0 2.24,0a1.12,1.35 0 1,0 -2.24,0M160.71,94.12a1.12,1.35 0 1,0 2.24,0a1.12,1.35 0 1,0 -2.24,0M164.24,93.63a1.12,1.35 0 1,0 2.24,0a1.12,1.35 0 1,0 -2.24,0M167.79,93.14a1.12,1.35 0 1,0 2.24,0a1.12,1.35 0 1,0 -2.24,0M171.34,92.64a1.12,1.35 0 1,0 2.24,0a1.12,1.35 0 1,0 -2.24,0M174.89,92.15a1.12,1.35 0 1,0 2.24,0a1.12,1.35 0 1,0 -2.24,0M178.46,91.66a1.12,1.35 0 1,0 2.24,0a1.12,1.35 0 1,0 -2.24,0M182.03,91.16a1.12,1.35 0 1,0 2.24,0a1.12,1.35 0 1,0 -2.24,0M185.61,90.67a1.12,1.35 0 1,0 2.24,0a1.12,1.35 0 1,0 -2.24,0M189.20,90.17a1.12,1.35 0 1,0 2.24,0a1.12,1.35 0 1,0 -2.24,0M192.79,89.67a1.12,1.35 0 1,0 2.24,0a1.12,1.35 0 1,0 -2.24,0M196.39,89.17a1.12,1.35 0 1,0 2.24,0a1.12,1.35 0 1,0 -2.24,0M200.00,88.67a1.12,1.35 0 1,0 2.24,0a1.12,1.35 0 1,0 -2.24,0M203.62,88.17a1.12,1.35 0 1,0 2.24,0a1.12,1.35 0 1,0 -2.24,0M207.24,87.67a1.12,1.35 0 1,0 2.24,0a1.12,1.35 0 1,0 -2.24,0M210.87,87.17a1.12,1.35 0 1,0 2.24,0a1.12,1.35 0 1,0 -2.24,0M214.51,86.66a1.12,1.35 0 1,0 2.24,0a1.12,1.35 0 1,0 -2.24,0M218.15,86.16a1.12,1.35 0 1,0 2.24,0a1.12,1.35 0 1,0 -2.24,0M221.80,85.65a1.12,1.35 0 1,0 2.24,0a1.12,1.35 0 1,0 -2.24,0M225.46,85.14a1.12,1.35 0 1,0 2.24,0a1.12,1.35 0 1,0 -2.24,0M72.98,110.23a1.12,1.35 0 1,0 2.24,0a1.12,1.35 0 1,0 -2.24,0M76.33,109.77a1.12,1.35 0 1,0 2.24,0a1.12,1.35 0 1,0 -2.24,0M79.69,109.31a1.12,1.35 0 1,0 2.24,0a1.12,1.35 0 1,0 -2.24,0M83.06,108.85a1.12,1.35 0 1,0 2.24,0a1.12,1.35 0 1,0 -2.24,0M86.43,108.39a1.12,1.35 0 1,0 2.24,0a1.12,1.35 0 1,0 -2.24,0M89.81,107.93a1.12,1.35 0 1,0 2.24,0a1.12,1.35 0 1,0 -2.24,0M93.19,107.46a1.12,1.35 0 1,0 2.24,0a1.12,1.35 0 1,0 -2.24,0M96.59,107.00a1.12,1.35 0 1,0 2.24,0a1.12,1.35 0 1,0 -2.24,0M99.99,106.53a1.12,1.35 0 1,0 2.24,0a1.12,1.35 0 1,0 -2.24,0M103.40,106.07a1.12,1.35 0 1,0 2.24,0a1.12,1.35 0 1,0 -2.24,0M106.81,105.60a1.12,1.35 0 1,0 2.24,0a1.12,1.35 0 1,0 -2.24,0M110.24,105.13a1.12,1.35 0 1,0 2.24,0a1.12,1.35 0 1,0 -2.24,0M113.67,104.66a1.12,1.35 0 1,0 2.24,0a1.12,1.35 0 1,0 -2.24,0M117.10,104.19a1.12,1.35 0 1,0 2.24,0a1.12,1.35 0 1,0 -2.24,0M120.55,103.72a1.12,1.35 0 1,0 2.24,0a1.12,1.35 0 1,0 -2.24,0M124.00,103.25a1.12,1.35 0 1,0 2.24,0a1.12,1.35 0 1,0 -2.24,0M127.46,102.78a1.12,1.35 0 1,0 2.24,0a1.12,1.35 0 1,0 -2.24,0M130.93,102.30a1.12,1.35 0 1,0 2.24,0a1.12,1.35 0 1,0 -2.24,0M134.40,101.83a1.12,1.35 0 1,0 2.24,0a1.12,1.35 0 1,0 -2.24,0M137.88,101.35a1.12,1.35 0 1,0 2.24,0a1.12,1.35 0 1,0 -2.24,0M141.37,100.87a1.12,1.35 0 1,0 2.24,0a1.12,1.35 0 1,0 -2.24,0M144.87,100.39a1.12,1.35 0 1,0 2.24,0a1.12,1.35 0 1,0 -2.24,0M148.37,99.91a1.12,1.35 0 1,0 2.24,0a1.12,1.35 0 1,0 -2.24,0M151.88,99.43a1.12,1.35 0 1,0 2.24,0a1.12,1.35 0 1,0 -2.24,0M155.40,98.95a1.12,1.35 0 1,0 2.24,0a1.12,1.35 0 1,0 -2.24,0M158.93,98.47a1.12,1.35 0 1,0 2.24,0a1.12,1.35 0 1,0 -2.24,0M162.46,97.99a1.12,1.35 0 1,0 2.24,0a1.12,1.35 0 1,0 -2.24,0M166.00,97.50a1.12,1.35 0 1,0 2.24,0a1.12,1.35 0 1,0 -2.24,0M169.55,97.02a1.12,1.35 0 1,0 2.24,0a1.12,1.35 0 1,0 -2.24,0M173.10,96.53a1.12,1.35 0 1,0 2.24,0a1.12,1.35 0 1,0 -2.24,0M176.66,96.04a1.12,1.35 0 1,0 2.24,0a1.12,1.35 0 1,0 -2.24,0M180.23,95.55a1.12,1.35 0 1,0 2.24,0a1.12,1.35 0 1,0 -2.24,0M183.81,95.06a1.12,1.35 0 1,0 2.24,0a1.12,1.35 0 1,0 -2.24,0M187.39,94.57a1.12,1.35 0 1,0 2.24,0a1.12,1.35 0 1,0 -2.24,0M190.98,94.08a1.12,1.35 0 1,0 2.24,0a1.12,1.35 0 1,0 -2.24,0M194.58,93.59a1.12,1.35 0 1,0 2.24,0a1.12,1.35 0 1,0 -2.24,0M198.19,93.10a1.12,1.35 0 1,0 2.24,0a1.12,1.35 0 1,0 -2.24,0M201.80,92.60a1.12,1.35 0 1,0 2.24,0a1.12,1.35 0 1,0 -2.24,0M205.42,92.11a1.12,1.35 0 1,0 2.24,0a1.12,1.35 0 1,0 -2.24,0M209.05,91.61a1.12,1.35 0 1,0 2.24,0a1.12,1.35 0 1,0 -2.24,0M212.68,91.11a1.12,1.35 0 1,0 2.24,0a1.12,1.35 0 1,0 -2.24,0M216.33,90.62a1.12,1.35 0 1,0 2.24,0a1.12,1.35 0 1,0 -2.24,0M219.98,90.12a1.12,1.35 0 1,0 2.24,0a1.12,1.35 0 1,0 -2.24,0M223.63,89.62a1.12,1.35 0 1,0 2.24,0a1.12,1.35 0 1,0 -2.24,0M74.62,113.97a1.12,1.35 0 1,0 2.24,0a1.12,1.35 0 1,0 -2.24,0M77.98,113.51a1.12,1.35 0 1,0 2.24,0a1.12,1.35 0 1,0 -2.24,0M81.34,113.06a1.12,1.35 0 1,0 2.24,0a1.12,1.35 0 1,0 -2.24,0M84.71,112.60a1.12,1.35 0 1,0 2.24,0a1.12,1.35 0 1,0 -2.24,0M88.08,112.15a1.12,1.35 0 1,0 2.24,0a1.12,1.35 0 1,0 -2.24,0M91.47,111.69a1.12,1.35 0 1,0 2.24,0a1.12,1.35 0 1,0 -2.24,0M94.86,111.23a1.12,1.35 0 1,0 2.24,0a1.12,1.35 0 1,0 -2.24,0M98.26,110.77a1.12,1.35 0 1,0 2.24,0a1.12,1.35 0 1,0 -2.24,0M101.66,110.31a1.12,1.35 0 1,0 2.24,0a1.12,1.35 0 1,0 -2.24,0M105.08,109.85a1.12,1.35 0 1,0 2.24,0a1.12,1.35 0 1,0 -2.24,0M108.50,109.39a1.12,1.35 0 1,0 2.24,0a1.12,1.35 0 1,0 -2.24,0M111.92,108.93a1.12,1.35 0 1,0 2.24,0a1.12,1.35 0 1,0 -2.24,0M115.36,108.46a1.12,1.35 0 1,0 2.24,0a1.12,1.35 0 1,0 -2.24,0M118.80,108.00a1.12,1.35 0 1,0 2.24,0a1.12,1.35 0 1,0 -2.24,0M122.25,107.53a1.12,1.35 0 1,0 2.24,0a1.12,1.35 0 1,0 -2.24,0M125.71,107.06a1.12,1.35 0 1,0 2.24,0a1.12,1.35 0 1,0 -2.24,0M129.17,106.60a1.12,1.35 0 1,0 2.24,0a1.12,1.35 0 1,0 -2.24,0M132.64,106.13a1.12,1.35 0 1,0 2.24,0a1.12,1.35 0 1,0 -2.24,0M136.12,105.66a1.12,1.35 0 1,0 2.24,0a1.12,1.35 0 1,0 -2.24,0M139.61,105.19a1.12,1.35 0 1,0 2.24,0a1.12,1.35 0 1,0 -2.24,0M143.10,104.71a1.12,1.35 0 1,0 2.24,0a1.12,1.35 0 1,0 -2.24,0M146.60,104.24a1.12,1.35 0 1,0 2.24,0a1.12,1.35 0 1,0 -2.24,0M150.11,103.77a1.12,1.35 0 1,0 2.24,0a1.12,1.35 0 1,0 -2.24,0M153.62,103.29a1.12,1.35 0 1,0 2.24,0a1.12,1.35 0 1,0 -2.24,0M157.15,102.82a1.12,1.35 0 1,0 2.24,0a1.12,1.35 0 1,0 -2.24,0M160.68,102.34a1.12,1.35 0 1,0 2.24,0a1.12,1.35 0 1,0 -2.24,0M164.21,101.86a1.12,1.35 0 1,0 2.24,0a1.12,1.35 0 1,0 -2.24,0M167.76,101.38a1.12,1.35 0 1,0 2.24,0a1.12,1.35 0 1,0 -2.24,0M171.31,100.90a1.12,1.35 0 1,0 2.24,0a1.12,1.35 0 1,0 -2.24,0M174.87,100.42a1.12,1.35 0 1,0 2.24,0a1.12,1.35 0 1,0 -2.24,0M178.44,99.94a1.12,1.35 0 1,0 2.24,0a1.12,1.35 0 1,0 -2.24,0M182.01,99.46a1.12,1.35 0 1,0 2.24,0a1.12,1.35 0 1,0 -2.24,0M185.59,98.97a1.12,1.35 0 1,0 2.24,0a1.12,1.35 0 1,0 -2.24,0M189.18,98.49a1.12,1.35 0 1,0 2.24,0a1.12,1.35 0 1,0 -2.24,0M192.77,98.00a1.12,1.35 0 1,0 2.24,0a1.12,1.35 0 1,0 -2.24,0M196.38,97.51a1.12,1.35 0 1,0 2.24,0a1.12,1.35 0 1,0 -2.24,0M199.99,97.03a1.12,1.35 0 1,0 2.24,0a1.12,1.35 0 1,0 -2.24,0M203.61,96.54a1.12,1.35 0 1,0 2.24,0a1.12,1.35 0 1,0 -2.24,0M207.23,96.05a1.12,1.35 0 1,0 2.24,0a1.12,1.35 0 1,0 -2.24,0M210.86,95.56a1.12,1.35 0 1,0 2.24,0a1.12,1.35 0 1,0 -2.24,0M214.50,95.07a1.12,1.35 0 1,0 2.24,0a1.12,1.35 0 1,0 -2.24,0M218.15,94.57a1.12,1.35 0 1,0 2.24,0a1.12,1.35 0 1,0 -2.24,0M221.80,94.08a1.12,1.35 0 1,0 2.24,0a1.12,1.35 0 1,0 -2.24,0M225.46,93.58a1.12,1.35 0 1,0 2.24,0a1.12,1.35 0 1,0 -2.24,0M72.91,118.15a1.12,1.35 0 1,0 2.24,0a1.12,1.35 0 1,0 -2.24,0M76.26,117.71a1.12,1.35 0 1,0 2.24,0a1.12,1.35 0 1,0 -2.24,0M79.62,117.26a1.12,1.35 0 1,0 2.24,0a1.12,1.35 0 1,0 -2.24,0M82.99,116.81a1.12,1.35 0 1,0 2.24,0a1.12,1.35 0 1,0 -2.24,0M86.36,116.36a1.12,1.35 0 1,0 2.24,0a1.12,1.35 0 1,0 -2.24,0M89.74,115.91a1.12,1.35 0 1,0 2.24,0a1.12,1.35 0 1,0 -2.24,0M93.13,115.46a1.12,1.35 0 1,0 2.24,0a1.12,1.35 0 1,0 -2.24,0M96.53,115.00a1.12,1.35 0 1,0 2.24,0a1.12,1.35 0 1,0 -2.24,0M99.93,114.55a1.12,1.35 0 1,0 2.24,0a1.12,1.35 0 1,0 -2.24,0M103.34,114.10a1.12,1.35 0 1,0 2.24,0a1.12,1.35 0 1,0 -2.24,0M106.76,113.64a1.12,1.35 0 1,0 2.24,0a1.12,1.35 0 1,0 -2.24,0M110.18,113.18a1.12,1.35 0 1,0 2.24,0a1.12,1.35 0 1,0 -2.24,0M113.61,112.72a1.12,1.35 0 1,0 2.24,0a1.12,1.35 0 1,0 -2.24,0M117.05,112.27a1.12,1.35 0 1,0 2.24,0a1.12,1.35 0 1,0 -2.24,0M120.50,111.81a1.12,1.35 0 1,0 2.24,0a1.12,1.35 0 1,0 -2.24,0M123.95,111.35a1.12,1.35 0 1,0 2.24,0a1.12,1.35 0 1,0 -2.24,0M127.42,110.88a1.12,1.35 0 1,0 2.24,0a1.12,1.35 0 1,0 -2.24,0M130.88,110.42a1.12,1.35 0 1,0 2.24,0a1.12,1.35 0 1,0 -2.24,0M134.36,109.96a1.12,1.35 0 1,0 2.24,0a1.12,1.35 0 1,0 -2.24,0M137.84,109.49a1.12,1.35 0 1,0 2.24,0a1.12,1.35 0 1,0 -2.24,0M141.33,109.03a1.12,1.35 0 1,0 2.24,0a1.12,1.35 0 1,0 -2.24,0M144.83,108.56a1.12,1.35 0 1,0 2.24,0a1.12,1.35 0 1,0 -2.24,0M148.34,108.09a1.12,1.35 0 1,0 2.24,0a1.12,1.35 0 1,0 -2.24,0M151.85,107.62a1.12,1.35 0 1,0 2.24,0a1.12,1.35 0 1,0 -2.24,0M155.37,107.15a1.12,1.35 0 1,0 2.24,0a1.12,1.35 0 1,0 -2.24,0M158.90,106.68a1.12,1.35 0 1,0 2.24,0a1.12,1.35 0 1,0 -2.24,0M162.43,106.21a1.12,1.35 0 1,0 2.24,0a1.12,1.35 0 1,0 -2.24,0M165.97,105.74a1.12,1.35 0 1,0 2.24,0a1.12,1.35 0 1,0 -2.24,0M169.52,105.27a1.12,1.35 0 1,0 2.24,0a1.12,1.35 0 1,0 -2.24,0M173.08,104.79a1.12,1.35 0 1,0 2.24,0a1.12,1.35 0 1,0 -2.24,0M176.64,104.32a1.12,1.35 0 1,0 2.24,0a1.12,1.35 0 1,0 -2.24,0M180.21,103.84a1.12,1.35 0 1,0 2.24,0a1.12,1.35 0 1,0 -2.24,0M183.79,103.36a1.12,1.35 0 1,0 2.24,0a1.12,1.35 0 1,0 -2.24,0M187.37,102.89a1.12,1.35 0 1,0 2.24,0a1.12,1.35 0 1,0 -2.24,0M190.97,102.41a1.12,1.35 0 1,0 2.24,0a1.12,1.35 0 1,0 -2.24,0M194.57,101.93a1.12,1.35 0 1,0 2.24,0a1.12,1.35 0 1,0 -2.24,0M198.17,101.44a1.12,1.35 0 1,0 2.24,0a1.12,1.35 0 1,0 -2.24,0M201.79,100.96a1.12,1.35 0 1,0 2.24,0a1.12,1.35 0 1,0 -2.24,0M205.41,100.48a1.12,1.35 0 1,0 2.24,0a1.12,1.35 0 1,0 -2.24,0M209.04,100.00a1.12,1.35 0 1,0 2.24,0a1.12,1.35 0 1,0 -2.24,0M212.68,99.51a1.12,1.35 0 1,0 2.24,0a1.12,1.35 0 1,0 -2.24,0M216.32,99.02a1.12,1.35 0 1,0 2.24,0a1.12,1.35 0 1,0 -2.24,0M219.97,98.54a1.12,1.35 0 1,0 2.24,0a1.12,1.35 0 1,0 -2.24,0M223.63,98.05a1.12,1.35 0 1,0 2.24,0a1.12,1.35 0 1,0 -2.24,0M74.55,121.90a1.12,1.35 0 1,0 2.24,0a1.12,1.35 0 1,0 -2.24,0M77.91,121.45a1.12,1.35 0 1,0 2.24,0a1.12,1.35 0 1,0 -2.24,0M81.27,121.01a1.12,1.35 0 1,0 2.24,0a1.12,1.35 0 1,0 -2.24,0M84.64,120.57a1.12,1.35 0 1,0 2.24,0a1.12,1.35 0 1,0 -2.24,0M88.02,120.12a1.12,1.35 0 1,0 2.24,0a1.12,1.35 0 1,0 -2.24,0M91.41,119.68a1.12,1.35 0 1,0 2.24,0a1.12,1.35 0 1,0 -2.24,0M94.80,119.23a1.12,1.35 0 1,0 2.24,0a1.12,1.35 0 1,0 -2.24,0M98.20,118.78a1.12,1.35 0 1,0 2.24,0a1.12,1.35 0 1,0 -2.24,0M101.61,118.33a1.12,1.35 0 1,0 2.24,0a1.12,1.35 0 1,0 -2.24,0M105.02,117.88a1.12,1.35 0 1,0 2.24,0a1.12,1.35 0 1,0 -2.24,0M108.44,117.43a1.12,1.35 0 1,0 2.24,0a1.12,1.35 0 1,0 -2.24,0M111.87,116.98a1.12,1.35 0 1,0 2.24,0a1.12,1.35 0 1,0 -2.24,0M115.31,116.53a1.12,1.35 0 1,0 2.24,0a1.12,1.35 0 1,0 -2.24,0M118.75,116.08a1.12,1.35 0 1,0 2.24,0a1.12,1.35 0 1,0 -2.24,0M122.20,115.62a1.12,1.35 0 1,0 2.24,0a1.12,1.35 0 1,0 -2.24,0M125.66,115.17a1.12,1.35 0 1,0 2.24,0a1.12,1.35 0 1,0 -2.24,0M129.13,114.71a1.12,1.35 0 1,0 2.24,0a1.12,1.35 0 1,0 -2.24,0M132.60,114.25a1.12,1.35 0 1,0 2.24,0a1.12,1.35 0 1,0 -2.24,0M136.08,113.79a1.12,1.35 0 1,0 2.24,0a1.12,1.35 0 1,0 -2.24,0M139.57,113.33a1.12,1.35 0 1,0 2.24,0a1.12,1.35 0 1,0 -2.24,0M143.06,112.87a1.12,1.35 0 1,0 2.24,0a1.12,1.35 0 1,0 -2.24,0M146.56,112.41a1.12,1.35 0 1,0 2.24,0a1.12,1.35 0 1,0 -2.24,0M150.07,111.95a1.12,1.35 0 1,0 2.24,0a1.12,1.35 0 1,0 -2.24,0M153.59,111.49a1.12,1.35 0 1,0 2.24,0a1.12,1.35 0 1,0 -2.24,0M157.12,111.02a1.12,1.35 0 1,0 2.24,0a1.12,1.35 0 1,0 -2.24,0M160.65,110.56a1.12,1.35 0 1,0 2.24,0a1.12,1.35 0 1,0 -2.24,0M164.19,110.09a1.12,1.35 0 1,0 2.24,0a1.12,1.35 0 1,0 -2.24,0M167.73,109.63a1.12,1.35 0 1,0 2.24,0a1.12,1.35 0 1,0 -2.24,0M171.28,109.16a1.12,1.35 0 1,0 2.24,0a1.12,1.35 0 1,0 -2.24,0M174.85,108.69a1.12,1.35 0 1,0 2.24,0a1.12,1.35 0 1,0 -2.24,0M178.41,108.22a1.12,1.35 0 1,0 2.24,0a1.12,1.35 0 1,0 -2.24,0M181.99,107.75a1.12,1.35 0 1,0 2.24,0a1.12,1.35 0 1,0 -2.24,0M185.57,107.28a1.12,1.35 0 1,0 2.24,0a1.12,1.35 0 1,0 -2.24,0M189.16,106.80a1.12,1.35 0 1,0 2.24,0a1.12,1.35 0 1,0 -2.24,0M192.76,106.33a1.12,1.35 0 1,0 2.24,0a1.12,1.35 0 1,0 -2.24,0M196.36,105.86a1.12,1.35 0 1,0 2.24,0a1.12,1.35 0 1,0 -2.24,0M199.98,105.38a1.12,1.35 0 1,0 2.24,0a1.12,1.35 0 1,0 -2.24,0M203.59,104.90a1.12,1.35 0 1,0 2.24,0a1.12,1.35 0 1,0 -2.24,0M207.22,104.43a1.12,1.35 0 1,0 2.24,0a1.12,1.35 0 1,0 -2.24,0M210.85,103.95a1.12,1.35 0 1,0 2.24,0a1.12,1.35 0 1,0 -2.24,0M214.50,103.47a1.12,1.35 0 1,0 2.24,0a1.12,1.35 0 1,0 -2.24,0M218.14,102.99a1.12,1.35 0 1,0 2.24,0a1.12,1.35 0 1,0 -2.24,0M221.80,102.51a1.12,1.35 0 1,0 2.24,0a1.12,1.35 0 1,0 -2.24,0M225.46,102.02a1.12,1.35 0 1,0 2.24,0a1.12,1.35 0 1,0 -2.24,0M72.84,126.08a1.12,1.35 0 1,0 2.24,0a1.12,1.35 0 1,0 -2.24,0M76.20,125.64a1.12,1.35 0 1,0 2.24,0a1.12,1.35 0 1,0 -2.24,0M79.56,125.21a1.12,1.35 0 1,0 2.24,0a1.12,1.35 0 1,0 -2.24,0M82.92,124.77a1.12,1.35 0 1,0 2.24,0a1.12,1.35 0 1,0 -2.24,0M86.30,124.33a1.12,1.35 0 1,0 2.24,0a1.12,1.35 0 1,0 -2.24,0M89.68,123.89a1.12,1.35 0 1,0 2.24,0a1.12,1.35 0 1,0 -2.24,0M93.07,123.45a1.12,1.35 0 1,0 2.24,0a1.12,1.35 0 1,0 -2.24,0M96.47,123.01a1.12,1.35 0 1,0 2.24,0a1.12,1.35 0 1,0 -2.24,0M99.87,122.57a1.12,1.35 0 1,0 2.24,0a1.12,1.35 0 1,0 -2.24,0M103.28,122.12a1.12,1.35 0 1,0 2.24,0a1.12,1.35 0 1,0 -2.24,0M106.70,121.68a1.12,1.35 0 1,0 2.24,0a1.12,1.35 0 1,0 -2.24,0M110.13,121.23a1.12,1.35 0 1,0 2.24,0a1.12,1.35 0 1,0 -2.24,0M113.56,120.79a1.12,1.35 0 1,0 2.24,0a1.12,1.35 0 1,0 -2.24,0M117.00,120.34a1.12,1.35 0 1,0 2.24,0a1.12,1.35 0 1,0 -2.24,0M120.45,119.89a1.12,1.35 0 1,0 2.24,0a1.12,1.35 0 1,0 -2.24,0M123.91,119.44a1.12,1.35 0 1,0 2.24,0a1.12,1.35 0 1,0 -2.24,0M127.37,118.99a1.12,1.35 0 1,0 2.24,0a1.12,1.35 0 1,0 -2.24,0M130.84,118.54a1.12,1.35 0 1,0 2.24,0a1.12,1.35 0 1,0 -2.24,0M134.32,118.09a1.12,1.35 0 1,0 2.24,0a1.12,1.35 0 1,0 -2.24,0M137.80,117.64a1.12,1.35 0 1,0 2.24,0a1.12,1.35 0 1,0 -2.24,0M141.29,117.18a1.12,1.35 0 1,0 2.24,0a1.12,1.35 0 1,0 -2.24,0M144.79,116.73a1.12,1.35 0 1,0 2.24,0a1.12,1.35 0 1,0 -2.24,0M148.30,116.27a1.12,1.35 0 1,0 2.24,0a1.12,1.35 0 1,0 -2.24,0M151.81,115.82a1.12,1.35 0 1,0 2.24,0a1.12,1.35 0 1,0 -2.24,0M155.34,115.36a1.12,1.35 0 1,0 2.24,0a1.12,1.35 0 1,0 -2.24,0M158.86,114.90a1.12,1.35 0 1,0 2.24,0a1.12,1.35 0 1,0 -2.24,0M162.40,114.44a1.12,1.35 0 1,0 2.24,0a1.12,1.35 0 1,0 -2.24,0M165.94,113.98a1.12,1.35 0 1,0 2.24,0a1.12,1.35 0 1,0 -2.24,0M169.49,113.52a1.12,1.35 0 1,0 2.24,0a1.12,1.35 0 1,0 -2.24,0M173.05,113.06a1.12,1.35 0 1,0 2.24,0a1.12,1.35 0 1,0 -2.24,0M176.62,112.59a1.12,1.35 0 1,0 2.24,0a1.12,1.35 0 1,0 -2.24,0M180.19,112.13a1.12,1.35 0 1,0 2.24,0a1.12,1.35 0 1,0 -2.24,0M183.77,111.66a1.12,1.35 0 1,0 2.24,0a1.12,1.35 0 1,0 -2.24,0M187.36,111.20a1.12,1.35 0 1,0 2.24,0a1.12,1.35 0 1,0 -2.24,0M190.95,110.73a1.12,1.35 0 1,0 2.24,0a1.12,1.35 0 1,0 -2.24,0M194.55,110.26a1.12,1.35 0 1,0 2.24,0a1.12,1.35 0 1,0 -2.24,0M198.16,109.79a1.12,1.35 0 1,0 2.24,0a1.12,1.35 0 1,0 -2.24,0M201.78,109.32a1.12,1.35 0 1,0 2.24,0a1.12,1.35 0 1,0 -2.24,0M205.40,108.85a1.12,1.35 0 1,0 2.24,0a1.12,1.35 0 1,0 -2.24,0M209.03,108.38a1.12,1.35 0 1,0 2.24,0a1.12,1.35 0 1,0 -2.24,0M212.67,107.91a1.12,1.35 0 1,0 2.24,0a1.12,1.35 0 1,0 -2.24,0M216.32,107.43a1.12,1.35 0 1,0 2.24,0a1.12,1.35 0 1,0 -2.24,0M219.97,106.96a1.12,1.35 0 1,0 2.24,0a1.12,1.35 0 1,0 -2.24,0M223.63,106.48a1.12,1.35 0 1,0 2.24,0a1.12,1.35 0 1,0 -2.24,0M74.48,129.83a1.12,1.35 0 1,0 2.24,0a1.12,1.35 0 1,0 -2.24,0M77.84,129.40a1.12,1.35 0 1,0 2.24,0a1.12,1.35 0 1,0 -2.24,0M81.21,128.96a1.12,1.35 0 1,0 2.24,0a1.12,1.35 0 1,0 -2.24,0M84.58,128.53a1.12,1.35 0 1,0 2.24,0a1.12,1.35 0 1,0 -2.24,0M87.96,128.10a1.12,1.35 0 1,0 2.24,0a1.12,1.35 0 1,0 -2.24,0M91.34,127.66a1.12,1.35 0 1,0 2.24,0a1.12,1.35 0 1,0 -2.24,0M94.74,127.23a1.12,1.35 0 1,0 2.24,0a1.12,1.35 0 1,0 -2.24,0M98.14,126.79a1.12,1.35 0 1,0 2.24,0a1.12,1.35 0 1,0 -2.24,0M101.55,126.35a1.12,1.35 0 1,0 2.24,0a1.12,1.35 0 1,0 -2.24,0M104.96,125.92a1.12,1.35 0 1,0 2.24,0a1.12,1.35 0 1,0 -2.24,0M108.39,125.48a1.12,1.35 0 1,0 2.24,0a1.12,1.35 0 1,0 -2.24,0M111.82,125.04a1.12,1.35 0 1,0 2.24,0a1.12,1.35 0 1,0 -2.24,0M115.26,124.60a1.12,1.35 0 1,0 2.24,0a1.12,1.35 0 1,0 -2.24,0M118.70,124.16a1.12,1.35 0 1,0 2.24,0a1.12,1.35 0 1,0 -2.24,0M122.15,123.71a1.12,1.35 0 1,0 2.24,0a1.12,1.35 0 1,0 -2.24,0M125.61,123.27a1.12,1.35 0 1,0 2.24,0a1.12,1.35 0 1,0 -2.24,0M129.08,122.82a1.12,1.35 0 1,0 2.24,0a1.12,1.35 0 1,0 -2.24,0M132.56,122.38a1.12,1.35 0 1,0 2.24,0a1.12,1.35 0 1,0 -2.24,0M136.04,121.93a1.12,1.35 0 1,0 2.24,0a1.12,1.35 0 1,0 -2.24,0M139.53,121.48a1.12,1.35 0 1,0 2.24,0a1.12,1.35 0 1,0 -2.24,0M143.02,121.04a1.12,1.35 0 1,0 2.24,0a1.12,1.35 0 1,0 -2.24,0M146.53,120.59a1.12,1.35 0 1,0 2.24,0a1.12,1.35 0 1,0 -2.24,0M150.04,120.14a1.12,1.35 0 1,0 2.24,0a1.12,1.35 0 1,0 -2.24,0M153.56,119.69a1.12,1.35 0 1,0 2.24,0a1.12,1.35 0 1,0 -2.24,0M157.08,119.23a1.12,1.35 0 1,0 2.24,0a1.12,1.35 0 1,0 -2.24,0M160.62,118.78a1.12,1.35 0 1,0 2.24,0a1.12,1.35 0 1,0 -2.24,0M164.16,118.33a1.12,1.35 0 1,0 2.24,0a1.12,1.35 0 1,0 -2.24,0M167.70,117.87a1.12,1.35 0 1,0 2.24,0a1.12,1.35 0 1,0 -2.24,0M171.26,117.42a1.12,1.35 0 1,0 2.24,0a1.12,1.35 0 1,0 -2.24,0M174.82,116.96a1.12,1.35 0 1,0 2.24,0a1.12,1.35 0 1,0 -2.24,0M178.39,116.50a1.12,1.35 0 1,0 2.24,0a1.12,1.35 0 1,0 -2.24,0M181.97,116.04a1.12,1.35 0 1,0 2.24,0a1.12,1.35 0 1,0 -2.24,0M185.55,115.58a1.12,1.35 0 1,0 2.24,0a1.12,1.35 0 1,0 -2.24,0M189.14,115.12a1.12,1.35 0 1,0 2.24,0a1.12,1.35 0 1,0 -2.24,0M192.74,114.66a1.12,1.35 0 1,0 2.24,0a1.12,1.35 0 1,0 -2.24,0M196.35,114.20a1.12,1.35 0 1,0 2.24,0a1.12,1.35 0 1,0 -2.24,0M199.96,113.73a1.12,1.35 0 1,0 2.24,0a1.12,1.35 0 1,0 -2.24,0M203.58,113.27a1.12,1.35 0 1,0 2.24,0a1.12,1.35 0 1,0 -2.24,0M207.21,112.80a1.12,1.35 0 1,0 2.24,0a1.12,1.35 0 1,0 -2.24,0M210.85,112.34a1.12,1.35 0 1,0 2.24,0a1.12,1.35 0 1,0 -2.24,0M214.49,111.87a1.12,1.35 0 1,0 2.24,0a1.12,1.35 0 1,0 -2.24,0M218.14,111.40a1.12,1.35 0 1,0 2.24,0a1.12,1.35 0 1,0 -2.24,0M221.80,110.93a1.12,1.35 0 1,0 2.24,0a1.12,1.35 0 1,0 -2.24,0M225.46,110.46a1.12,1.35 0 1,0 2.24,0a1.12,1.35 0 1,0 -2.24,0M72.77,134.00a1.12,1.35 0 1,0 2.24,0a1.12,1.35 0 1,0 -2.24,0M76.13,133.58a1.12,1.35 0 1,0 2.24,0a1.12,1.35 0 1,0 -2.24,0M79.49,133.15a1.12,1.35 0 1,0 2.24,0a1.12,1.35 0 1,0 -2.24,0M82.86,132.73a1.12,1.35 0 1,0 2.24,0a1.12,1.35 0 1,0 -2.24,0M86.23,132.30a1.12,1.35 0 1,0 2.24,0a1.12,1.35 0 1,0 -2.24,0M89.62,131.87a1.12,1.35 0 1,0 2.24,0a1.12,1.35 0 1,0 -2.24,0M93.01,131.44a1.12,1.35 0 1,0 2.24,0a1.12,1.35 0 1,0 -2.24,0M96.41,131.01a1.12,1.35 0 1,0 2.24,0a1.12,1.35 0 1,0 -2.24,0M99.81,130.58a1.12,1.35 0 1,0 2.24,0a1.12,1.35 0 1,0 -2.24,0M103.23,130.15a1.12,1.35 0 1,0 2.24,0a1.12,1.35 0 1,0 -2.24,0M106.65,129.72a1.12,1.35 0 1,0 2.24,0a1.12,1.35 0 1,0 -2.24,0M110.08,129.28a1.12,1.35 0 1,0 2.24,0a1.12,1.35 0 1,0 -2.24,0M113.51,128.85a1.12,1.35 0 1,0 2.24,0a1.12,1.35 0 1,0 -2.24,0M116.95,128.41a1.12,1.35 0 1,0 2.24,0a1.12,1.35 0 1,0 -2.24,0M120.40,127.98a1.12,1.35 0 1,0 2.24,0a1.12,1.35 0 1,0 -2.24,0M123.86,127.54a1.12,1.35 0 1,0 2.24,0a1.12,1.35 0 1,0 -2.24,0M127.32,127.10a1.12,1.35 0 1,0 2.24,0a1.12,1.35 0 1,0 -2.24,0M130.80,126.66a1.12,1.35 0 1,0 2.24,0a1.12,1.35 0 1,0 -2.24,0M134.28,126.22a1.12,1.35 0 1,0 2.24,0a1.12,1.35 0 1,0 -2.24,0M137.76,125.78a1.12,1.35 0 1,0 2.24,0a1.12,1.35 0 1,0 -2.24,0M141.26,125.34a1.12,1.35 0 1,0 2.24,0a1.12,1.35 0 1,0 -2.24,0M144.76,124.90a1.12,1.35 0 1,0 2.24,0a1.12,1.35 0 1,0 -2.24,0M148.26,124.45a1.12,1.35 0 1,0 2.24,0a1.12,1.35 0 1,0 -2.24,0M151.78,124.01a1.12,1.35 0 1,0 2.24,0a1.12,1.35 0 1,0 -2.24,0M155.30,123.56a1.12,1.35 0 1,0 2.24,0a1.12,1.35 0 1,0 -2.24,0M158.83,123.11a1.12,1.35 0 1,0 2.24,0a1.12,1.35 0 1,0 -2.24,0M162.37,122.67a1.12,1.35 0 1,0 2.24,0a1.12,1.35 0 1,0 -2.24,0M165.92,122.22a1.12,1.35 0 1,0 2.24,0a1.12,1.35 0 1,0 -2.24,0M169.47,121.77a1.12,1.35 0 1,0 2.24,0a1.12,1.35 0 1,0 -2.24,0M173.03,121.32a1.12,1.35 0 1,0 2.24,0a1.12,1.35 0 1,0 -2.24,0M176.59,120.87a1.12,1.35 0 1,0 2.24,0a1.12,1.35 0 1,0 -2.24,0M180.17,120.41a1.12,1.35 0 1,0 2.24,0a1.12,1.35 0 1,0 -2.24,0M183.75,119.96a1.12,1.35 0 1,0 2.24,0a1.12,1.35 0 1,0 -2.24,0M187.34,119.51a1.12,1.35 0 1,0 2.24,0a1.12,1.35 0 1,0 -2.24,0M190.93,119.05a1.12,1.35 0 1,0 2.24,0a1.12,1.35 0 1,0 -2.24,0M194.54,118.60a1.12,1.35 0 1,0 2.24,0a1.12,1.35 0 1,0 -2.24,0M198.15,118.14a1.12,1.35 0 1,0 2.24,0a1.12,1.35 0 1,0 -2.24,0M201.77,117.68a1.12,1.35 0 1,0 2.24,0a1.12,1.35 0 1,0 -2.24,0M205.39,117.22a1.12,1.35 0 1,0 2.24,0a1.12,1.35 0 1,0 -2.24,0M209.02,116.76a1.12,1.35 0 1,0 2.24,0a1.12,1.35 0 1,0 -2.24,0M212.66,116.30a1.12,1.35 0 1,0 2.24,0a1.12,1.35 0 1,0 -2.24,0M216.31,115.84a1.12,1.35 0 1,0 2.24,0a1.12,1.35 0 1,0 -2.24,0M219.97,115.38a1.12,1.35 0 1,0 2.24,0a1.12,1.35 0 1,0 -2.24,0M223.63,114.92a1.12,1.35 0 1,0 2.24,0a1.12,1.35 0 1,0 -2.24,0M74.41,137.76a1.12,1.35 0 1,0 2.24,0a1.12,1.35 0 1,0 -2.24,0M77.77,137.34a1.12,1.35 0 1,0 2.24,0a1.12,1.35 0 1,0 -2.24,0M81.14,136.92a1.12,1.35 0 1,0 2.24,0a1.12,1.35 0 1,0 -2.24,0M84.51,136.50a1.12,1.35 0 1,0 2.24,0a1.12,1.35 0 1,0 -2.24,0M87.89,136.07a1.12,1.35 0 1,0 2.24,0a1.12,1.35 0 1,0 -2.24,0M91.28,135.65a1.12,1.35 0 1,0 2.24,0a1.12,1.35 0 1,0 -2.24,0M94.68,135.23a1.12,1.35 0 1,0 2.24,0a1.12,1.35 0 1,0 -2.24,0M98.08,134.80a1.12,1.35 0 1,0 2.24,0a1.12,1.35 0 1,0 -2.24,0M101.49,134.38a1.12,1.35 0 1,0 2.24,0a1.12,1.35 0 1,0 -2.24,0M104.91,133.95a1.12,1.35 0 1,0 2.24,0a1.12,1.35 0 1,0 -2.24,0M108.33,133.52a1.12,1.35 0 1,0 2.24,0a1.12,1.35 0 1,0 -2.24,0M111.77,133.09a1.12,1.35 0 1,0 2.24,0a1.12,1.35 0 1,0 -2.24,0M115.21,132.66a1.12,1.35 0 1,0 2.24,0a1.12,1.35 0 1,0 -2.24,0M118.65,132.23a1.12,1.35 0 1,0 2.24,0a1.12,1.35 0 1,0 -2.24,0M122.11,131.80a1.12,1.35 0 1,0 2.24,0a1.12,1.35 0 1,0 -2.24,0M125.57,131.37a1.12,1.35 0 1,0 2.24,0a1.12,1.35 0 1,0 -2.24,0M129.04,130.94a1.12,1.35 0 1,0 2.24,0a1.12,1.35 0 1,0 -2.24,0M132.51,130.50a1.12,1.35 0 1,0 2.24,0a1.12,1.35 0 1,0 -2.24,0M136.00,130.07a1.12,1.35 0 1,0 2.24,0a1.12,1.35 0 1,0 -2.24,0M139.49,129.63a1.12,1.35 0 1,0 2.24,0a1.12,1.35 0 1,0 -2.24,0M142.99,129.20a1.12,1.35 0 1,0 2.24,0a1.12,1.35 0 1,0 -2.24,0M146.49,128.76a1.12,1.35 0 1,0 2.24,0a1.12,1.35 0 1,0 -2.24,0M150.00,128.32a1.12,1.35 0 1,0 2.24,0a1.12,1.35 0 1,0 -2.24,0M153.52,127.88a1.12,1.35 0 1,0 2.24,0a1.12,1.35 0 1,0 -2.24,0M157.05,127.44a1.12,1.35 0 1,0 2.24,0a1.12,1.35 0 1,0 -2.24,0M160.59,127.00a1.12,1.35 0 1,0 2.24,0a1.12,1.35 0 1,0 -2.24,0M164.13,126.56a1.12,1.35 0 1,0 2.24,0a1.12,1.35 0 1,0 -2.24,0M167.68,126.12a1.12,1.35 0 1,0 2.24,0a1.12,1.35 0 1,0 -2.24,0M171.23,125.67a1.12,1.35 0 1,0 2.24,0a1.12,1.35 0 1,0 -2.24,0M174.80,125.23a1.12,1.35 0 1,0 2.24,0a1.12,1.35 0 1,0 -2.24,0M178.37,124.78a1.12,1.35 0 1,0 2.24,0a1.12,1.35 0 1,0 -2.24,0M181.95,124.33a1.12,1.35 0 1,0 2.24,0a1.12,1.35 0 1,0 -2.24,0M185.53,123.89a1.12,1.35 0 1,0 2.24,0a1.12,1.35 0 1,0 -2.24,0M189.13,123.44a1.12,1.35 0 1,0 2.24,0a1.12,1.35 0 1,0 -2.24,0M192.73,122.99a1.12,1.35 0 1,0 2.24,0a1.12,1.35 0 1,0 -2.24,0M196.34,122.54a1.12,1.35 0 1,0 2.24,0a1.12,1.35 0 1,0 -2.24,0M199.95,122.09a1.12,1.35 0 1,0 2.24,0a1.12,1.35 0 1,0 -2.24,0M203.57,121.64a1.12,1.35 0 1,0 2.24,0a1.12,1.35 0 1,0 -2.24,0M207.20,121.18a1.12,1.35 0 1,0 2.24,0a1.12,1.35 0 1,0 -2.24,0M210.84,120.73a1.12,1.35 0 1,0 2.24,0a1.12,1.35 0 1,0 -2.24,0M214.48,120.27a1.12,1.35 0 1,0 2.24,0a1.12,1.35 0 1,0 -2.24,0M218.14,119.82a1.12,1.35 0 1,0 2.24,0a1.12,1.35 0 1,0 -2.24,0M221.80,119.36a1.12,1.35 0 1,0 2.24,0a1.12,1.35 0 1,0 -2.24,0M225.46,118.90a1.12,1.35 0 1,0 2.24,0a1.12,1.35 0 1,0 -2.24,0M72.70,141.93a1.12,1.35 0 1,0 2.24,0a1.12,1.35 0 1,0 -2.24,0M76.06,141.51a1.12,1.35 0 1,0 2.24,0a1.12,1.35 0 1,0 -2.24,0M79.42,141.10a1.12,1.35 0 1,0 2.24,0a1.12,1.35 0 1,0 -2.24,0M82.79,140.69a1.12,1.35 0 1,0 2.24,0a1.12,1.35 0 1,0 -2.24,0M86.17,140.27a1.12,1.35 0 1,0 2.24,0a1.12,1.35 0 1,0 -2.24,0M89.55,139.85a1.12,1.35 0 1,0 2.24,0a1.12,1.35 0 1,0 -2.24,0M92.95,139.43a1.12,1.35 0 1,0 2.24,0a1.12,1.35 0 1,0 -2.24,0M96.35,139.02a1.12,1.35 0 1,0 2.24,0a1.12,1.35 0 1,0 -2.24,0M99.76,138.60a1.12,1.35 0 1,0 2.24,0a1.12,1.35 0 1,0 -2.24,0M103.17,138.18a1.12,1.35 0 1,0 2.24,0a1.12,1.35 0 1,0 -2.24,0M106.59,137.76a1.12,1.35 0 1,0 2.24,0a1.12,1.35 0 1,0 -2.24,0M110.02,137.33a1.12,1.35 0 1,0 2.24,0a1.12,1.35 0 1,0 -2.24,0M113.46,136.91a1.12,1.35 0 1,0 2.24,0a1.12,1.35 0 1,0 -2.24,0M116.90,136.49a1.12,1.35 0 1,0 2.24,0a1.12,1.35 0 1,0 -2.24,0M120.35,136.06a1.12,1.35 0 1,0 2.24,0a1.12,1.35 0 1,0 -2.24,0M123.81,135.64a1.12,1.35 0 1,0 2.24,0a1.12,1.35 0 1,0 -2.24,0M127.28,135.21a1.12,1.35 0 1,0 2.24,0a1.12,1.35 0 1,0 -2.24,0M130.75,134.78a1.12,1.35 0 1,0 2.24,0a1.12,1.35 0 1,0 -2.24,0M134.23,134.35a1.12,1.35 0 1,0 2.24,0a1.12,1.35 0 1,0 -2.24,0M137.72,133.92a1.12,1.35 0 1,0 2.24,0a1.12,1.35 0 1,0 -2.24,0M141.22,133.49a1.12,1.35 0 1,0 2.24,0a1.12,1.35 0 1,0 -2.24,0M144.72,133.06a1.12,1.35 0 1,0 2.24,0a1.12,1.35 0 1,0 -2.24,0M148.23,132.63a1.12,1.35 0 1,0 2.24,0a1.12,1.35 0 1,0 -2.24,0M151.75,132.20a1.12,1.35 0 1,0 2.24,0a1.12,1.35 0 1,0 -2.24,0M155.27,131.76a1.12,1.35 0 1,0 2.24,0a1.12,1.35 0 1,0 -2.24,0M158.80,131.33a1.12,1.35 0 1,0 2.24,0a1.12,1.35 0 1,0 -2.24,0M162.34,130.89a1.12,1.35 0 1,0 2.24,0a1.12,1.35 0 1,0 -2.24,0M165.89,130.46a1.12,1.35 0 1,0 2.24,0a1.12,1.35 0 1,0 -2.24,0M169.44,130.02a1.12,1.35 0 1,0 2.24,0a1.12,1.35 0 1,0 -2.24,0M173.00,129.58a1.12,1.35 0 1,0 2.24,0a1.12,1.35 0 1,0 -2.24,0M176.57,129.14a1.12,1.35 0 1,0 2.24,0a1.12,1.35 0 1,0 -2.24,0M180.15,128.70a1.12,1.35 0 1,0 2.24,0a1.12,1.35 0 1,0 -2.24,0M183.73,128.26a1.12,1.35 0 1,0 2.24,0a1.12,1.35 0 1,0 -2.24,0M187.32,127.82a1.12,1.35 0 1,0 2.24,0a1.12,1.35 0 1,0 -2.24,0M190.92,127.38a1.12,1.35 0 1,0 2.24,0a1.12,1.35 0 1,0 -2.24,0M194.52,126.93a1.12,1.35 0 1,0 2.24,0a1.12,1.35 0 1,0 -2.24,0M198.14,126.49a1.12,1.35 0 1,0 2.24,0a1.12,1.35 0 1,0 -2.24,0M201.76,126.04a1.12,1.35 0 1,0 2.24,0a1.12,1.35 0 1,0 -2.24,0M205.38,125.60a1.12,1.35 0 1,0 2.24,0a1.12,1.35 0 1,0 -2.24,0M209.02,125.15a1.12,1.35 0 1,0 2.24,0a1.12,1.35 0 1,0 -2.24,0M212.66,124.70a1.12,1.35 0 1,0 2.24,0a1.12,1.35 0 1,0 -2.24,0M216.31,124.25a1.12,1.35 0 1,0 2.24,0a1.12,1.35 0 1,0 -2.24,0M219.96,123.80a1.12,1.35 0 1,0 2.24,0a1.12,1.35 0 1,0 -2.24,0M223.63,123.35a1.12,1.35 0 1,0 2.24,0a1.12,1.35 0 1,0 -2.24,0M74.34,145.69a1.12,1.35 0 1,0 2.24,0a1.12,1.35 0 1,0 -2.24,0M77.70,145.28a1.12,1.35 0 1,0 2.24,0a1.12,1.35 0 1,0 -2.24,0M81.07,144.87a1.12,1.35 0 1,0 2.24,0a1.12,1.35 0 1,0 -2.24,0M84.45,144.46a1.12,1.35 0 1,0 2.24,0a1.12,1.35 0 1,0 -2.24,0M87.83,144.05a1.12,1.35 0 1,0 2.24,0a1.12,1.35 0 1,0 -2.24,0M91.22,143.64a1.12,1.35 0 1,0 2.24,0a1.12,1.35 0 1,0 -2.24,0M94.62,143.22a1.12,1.35 0 1,0 2.24,0a1.12,1.35 0 1,0 -2.24,0M98.02,142.81a1.12,1.35 0 1,0 2.24,0a1.12,1.35 0 1,0 -2.24,0M101.43,142.40a1.12,1.35 0 1,0 2.24,0a1.12,1.35 0 1,0 -2.24,0M104.85,141.98a1.12,1.35 0 1,0 2.24,0a1.12,1.35 0 1,0 -2.24,0M108.28,141.57a1.12,1.35 0 1,0 2.24,0a1.12,1.35 0 1,0 -2.24,0M111.71,141.15a1.12,1.35 0 1,0 2.24,0a1.12,1.35 0 1,0 -2.24,0M115.15,140.73a1.12,1.35 0 1,0 2.24,0a1.12,1.35 0 1,0 -2.24,0M118.60,140.31a1.12,1.35 0 1,0 2.24,0a1.12,1.35 0 1,0 -2.24,0M122.06,139.89a1.12,1.35 0 1,0 2.24,0a1.12,1.35 0 1,0 -2.24,0M125.52,139.47a1.12,1.35 0 1,0 2.24,0a1.12,1.35 0 1,0 -2.24,0M128.99,139.05a1.12,1.35 0 1,0 2.24,0a1.12,1.35 0 1,0 -2.24,0M132.47,138.63a1.12,1.35 0 1,0 2.24,0a1.12,1.35 0 1,0 -2.24,0M135.95,138.21a1.12,1.35 0 1,0 2.24,0a1.12,1.35 0 1,0 -2.24,0M139.45,137.78a1.12,1.35 0 1,0 2.24,0a1.12,1.35 0 1,0 -2.24,0M142.95,137.36a1.12,1.35 0 1,0 2.24,0a1.12,1.35 0 1,0 -2.24,0M146.45,136.93a1.12,1.35 0 1,0 2.24,0a1.12,1.35 0 1,0 -2.24,0M149.97,136.51a1.12,1.35 0 1,0 2.24,0a1.12,1.35 0 1,0 -2.24,0M153.49,136.08a1.12,1.35 0 1,0 2.24,0a1.12,1.35 0 1,0 -2.24,0M157.02,135.65a1.12,1.35 0 1,0 2.24,0a1.12,1.35 0 1,0 -2.24,0M160.56,135.22a1.12,1.35 0 1,0 2.24,0a1.12,1.35 0 1,0 -2.24,0M164.10,134.79a1.12,1.35 0 1,0 2.24,0a1.12,1.35 0 1,0 -2.24,0M167.65,134.36a1.12,1.35 0 1,0 2.24,0a1.12,1.35 0 1,0 -2.24,0M171.21,133.93a1.12,1.35 0 1,0 2.24,0a1.12,1.35 0 1,0 -2.24,0M174.77,133.50a1.12,1.35 0 1,0 2.24,0a1.12,1.35 0 1,0 -2.24,0M178.35,133.06a1.12,1.35 0 1,0 2.24,0a1.12,1.35 0 1,0 -2.24,0M181.93,132.63a1.12,1.35 0 1,0 2.24,0a1.12,1.35 0 1,0 -2.24,0M185.52,132.19a1.12,1.35 0 1,0 2.24,0a1.12,1.35 0 1,0 -2.24,0M189.11,131.76a1.12,1.35 0 1,0 2.24,0a1.12,1.35 0 1,0 -2.24,0M192.71,131.32a1.12,1.35 0 1,0 2.24,0a1.12,1.35 0 1,0 -2.24,0M196.32,130.88a1.12,1.35 0 1,0 2.24,0a1.12,1.35 0 1,0 -2.24,0M199.94,130.44a1.12,1.35 0 1,0 2.24,0a1.12,1.35 0 1,0 -2.24,0M203.56,130.00a1.12,1.35 0 1,0 2.24,0a1.12,1.35 0 1,0 -2.24,0M207.19,129.56a1.12,1.35 0 1,0 2.24,0a1.12,1.35 0 1,0 -2.24,0M210.83,129.12a1.12,1.35 0 1,0 2.24,0a1.12,1.35 0 1,0 -2.24,0M214.48,128.68a1.12,1.35 0 1,0 2.24,0a1.12,1.35 0 1,0 -2.24,0M218.13,128.23a1.12,1.35 0 1,0 2.24,0a1.12,1.35 0 1,0 -2.24,0M221.79,127.79a1.12,1.35 0 1,0 2.24,0a1.12,1.35 0 1,0 -2.24,0M225.46,127.34a1.12,1.35 0 1,0 2.24,0a1.12,1.35 0 1,0 -2.24,0M72.63,149.85a1.12,1.35 0 1,0 2.24,0a1.12,1.35 0 1,0 -2.24,0M75.99,149.45a1.12,1.35 0 1,0 2.24,0a1.12,1.35 0 1,0 -2.24,0M79.35,149.05a1.12,1.35 0 1,0 2.24,0a1.12,1.35 0 1,0 -2.24,0M82.72,148.64a1.12,1.35 0 1,0 2.24,0a1.12,1.35 0 1,0 -2.24,0M86.10,148.24a1.12,1.35 0 1,0 2.24,0a1.12,1.35 0 1,0 -2.24,0M89.49,147.83a1.12,1.35 0 1,0 2.24,0a1.12,1.35 0 1,0 -2.24,0M92.89,147.43a1.12,1.35 0 1,0 2.24,0a1.12,1.35 0 1,0 -2.24,0M96.29,147.02a1.12,1.35 0 1,0 2.24,0a1.12,1.35 0 1,0 -2.24,0M99.70,146.61a1.12,1.35 0 1,0 2.24,0a1.12,1.35 0 1,0 -2.24,0M103.11,146.20a1.12,1.35 0 1,0 2.24,0a1.12,1.35 0 1,0 -2.24,0M106.54,145.79a1.12,1.35 0 1,0 2.24,0a1.12,1.35 0 1,0 -2.24,0M109.97,145.38a1.12,1.35 0 1,0 2.24,0a1.12,1.35 0 1,0 -2.24,0M113.41,144.97a1.12,1.35 0 1,0 2.24,0a1.12,1.35 0 1,0 -2.24,0M116.85,144.56a1.12,1.35 0 1,0 2.24,0a1.12,1.35 0 1,0 -2.24,0M120.30,144.15a1.12,1.35 0 1,0 2.24,0a1.12,1.35 0 1,0 -2.24,0M123.76,143.73a1.12,1.35 0 1,0 2.24,0a1.12,1.35 0 1,0 -2.24,0M127.23,143.32a1.12,1.35 0 1,0 2.24,0a1.12,1.35 0 1,0 -2.24,0M130.71,142.90a1.12,1.35 0 1,0 2.24,0a1.12,1.35 0 1,0 -2.24,0M134.19,142.49a1.12,1.35 0 1,0 2.24,0a1.12,1.35 0 1,0 -2.24,0M137.68,142.07a1.12,1.35 0 1,0 2.24,0a1.12,1.35 0 1,0 -2.24,0M141.18,141.65a1.12,1.35 0 1,0 2.24,0a1.12,1.35 0 1,0 -2.24,0M144.68,141.23a1.12,1.35 0 1,0 2.24,0a1.12,1.35 0 1,0 -2.24,0M148.19,140.81a1.12,1.35 0 1,0 2.24,0a1.12,1.35 0 1,0 -2.24,0M151.71,140.39a1.12,1.35 0 1,0 2.24,0a1.12,1.35 0 1,0 -2.24,0M155.24,139.97a1.12,1.35 0 1,0 2.24,0a1.12,1.35 0 1,0 -2.24,0M158.77,139.54a1.12,1.35 0 1,0 2.24,0a1.12,1.35 0 1,0 -2.24,0M162.31,139.12a1.12,1.35 0 1,0 2.24,0a1.12,1.35 0 1,0 -2.24,0M165.86,138.70a1.12,1.35 0 1,0 2.24,0a1.12,1.35 0 1,0 -2.24,0M169.42,138.27a1.12,1.35 0 1,0 2.24,0a1.12,1.35 0 1,0 -2.24,0M172.98,137.84a1.12,1.35 0 1,0 2.24,0a1.12,1.35 0 1,0 -2.24,0M176.55,137.42a1.12,1.35 0 1,0 2.24,0a1.12,1.35 0 1,0 -2.24,0M180.13,136.99a1.12,1.35 0 1,0 2.24,0a1.12,1.35 0 1,0 -2.24,0M183.71,136.56a1.12,1.35 0 1,0 2.24,0a1.12,1.35 0 1,0 -2.24,0M187.30,136.13a1.12,1.35 0 1,0 2.24,0a1.12,1.35 0 1,0 -2.24,0M190.90,135.70a1.12,1.35 0 1,0 2.24,0a1.12,1.35 0 1,0 -2.24,0M194.51,135.27a1.12,1.35 0 1,0 2.24,0a1.12,1.35 0 1,0 -2.24,0M198.12,134.83a1.12,1.35 0 1,0 2.24,0a1.12,1.35 0 1,0 -2.24,0M201.74,134.40a1.12,1.35 0 1,0 2.24,0a1.12,1.35 0 1,0 -2.24,0M205.37,133.97a1.12,1.35 0 1,0 2.24,0a1.12,1.35 0 1,0 -2.24,0M209.01,133.53a1.12,1.35 0 1,0 2.24,0a1.12,1.35 0 1,0 -2.24,0M212.65,133.10a1.12,1.35 0 1,0 2.24,0a1.12,1.35 0 1,0 -2.24,0M216.30,132.66a1.12,1.35 0 1,0 2.24,0a1.12,1.35 0 1,0 -2.24,0M219.96,132.22a1.12,1.35 0 1,0 2.24,0a1.12,1.35 0 1,0 -2.24,0M223.63,131.78a1.12,1.35 0 1,0 2.24,0a1.12,1.35 0 1,0 -2.24,0M74.27,153.62a1.12,1.35 0 1,0 2.24,0a1.12,1.35 0 1,0 -2.24,0M77.63,153.22a1.12,1.35 0 1,0 2.24,0a1.12,1.35 0 1,0 -2.24,0M81.00,152.82a1.12,1.35 0 1,0 2.24,0a1.12,1.35 0 1,0 -2.24,0M84.38,152.42a1.12,1.35 0 1,0 2.24,0a1.12,1.35 0 1,0 -2.24,0M87.76,152.02a1.12,1.35 0 1,0 2.24,0a1.12,1.35 0 1,0 -2.24,0M91.16,151.62a1.12,1.35 0 1,0 2.24,0a1.12,1.35 0 1,0 -2.24,0M94.56,151.22a1.12,1.35 0 1,0 2.24,0a1.12,1.35 0 1,0 -2.24,0M97.96,150.82a1.12,1.35 0 1,0 2.24,0a1.12,1.35 0 1,0 -2.24,0M101.37,150.42a1.12,1.35 0 1,0 2.24,0a1.12,1.35 0 1,0 -2.24,0M104.80,150.02a1.12,1.35 0 1,0 2.24,0a1.12,1.35 0 1,0 -2.24,0M108.22,149.61a1.12,1.35 0 1,0 2.24,0a1.12,1.35 0 1,0 -2.24,0M111.66,149.21a1.12,1.35 0 1,0 2.24,0a1.12,1.35 0 1,0 -2.24,0M115.10,148.80a1.12,1.35 0 1,0 2.24,0a1.12,1.35 0 1,0 -2.24,0M118.55,148.39a1.12,1.35 0 1,0 2.24,0a1.12,1.35 0 1,0 -2.24,0M122.01,147.99a1.12,1.35 0 1,0 2.24,0a1.12,1.35 0 1,0 -2.24,0M125.47,147.58a1.12,1.35 0 1,0 2.24,0a1.12,1.35 0 1,0 -2.24,0M128.95,147.17a1.12,1.35 0 1,0 2.24,0a1.12,1.35 0 1,0 -2.24,0M132.43,146.76a1.12,1.35 0 1,0 2.24,0a1.12,1.35 0 1,0 -2.24,0M135.91,146.35a1.12,1.35 0 1,0 2.24,0a1.12,1.35 0 1,0 -2.24,0M139.41,145.93a1.12,1.35 0 1,0 2.24,0a1.12,1.35 0 1,0 -2.24,0M142.91,145.52a1.12,1.35 0 1,0 2.24,0a1.12,1.35 0 1,0 -2.24,0M146.42,145.11a1.12,1.35 0 1,0 2.24,0a1.12,1.35 0 1,0 -2.24,0M149.93,144.69a1.12,1.35 0 1,0 2.24,0a1.12,1.35 0 1,0 -2.24,0M153.46,144.28a1.12,1.35 0 1,0 2.24,0a1.12,1.35 0 1,0 -2.24,0M156.99,143.86a1.12,1.35 0 1,0 2.24,0a1.12,1.35 0 1,0 -2.24,0M160.53,143.44a1.12,1.35 0 1,0 2.24,0a1.12,1.35 0 1,0 -2.24,0M164.07,143.02a1.12,1.35 0 1,0 2.24,0a1.12,1.35 0 1,0 -2.24,0M167.62,142.61a1.12,1.35 0 1,0 2.24,0a1.12,1.35 0 1,0 -2.24,0M171.18,142.19a1.12,1.35 0 1,0 2.24,0a1.12,1.35 0 1,0 -2.24,0M174.75,141.76a1.12,1.35 0 1,0 2.24,0a1.12,1.35 0 1,0 -2.24,0M178.32,141.34a1.12,1.35 0 1,0 2.24,0a1.12,1.35 0 1,0 -2.24,0M181.91,140.92a1.12,1.35 0 1,0 2.24,0a1.12,1.35 0 1,0 -2.24,0M185.50,140.50a1.12,1.35 0 1,0 2.24,0a1.12,1.35 0 1,0 -2.24,0M189.09,140.07a1.12,1.35 0 1,0 2.24,0a1.12,1.35 0 1,0 -2.24,0M192.70,139.65a1.12,1.35 0 1,0 2.24,0a1.12,1.35 0 1,0 -2.24,0M196.31,139.22a1.12,1.35 0 1,0 2.24,0a1.12,1.35 0 1,0 -2.24,0M199.93,138.80a1.12,1.35 0 1,0 2.24,0a1.12,1.35 0 1,0 -2.24,0M203.55,138.37a1.12,1.35 0 1,0 2.24,0a1.12,1.35 0 1,0 -2.24,0M207.19,137.94a1.12,1.35 0 1,0 2.24,0a1.12,1.35 0 1,0 -2.24,0M210.83,137.51a1.12,1.35 0 1,0 2.24,0a1.12,1.35 0 1,0 -2.24,0M214.47,137.08a1.12,1.35 0 1,0 2.24,0a1.12,1.35 0 1,0 -2.24,0M218.13,136.65a1.12,1.35 0 1,0 2.24,0a1.12,1.35 0 1,0 -2.24,0M221.79,136.22a1.12,1.35 0 1,0 2.24,0a1.12,1.35 0 1,0 -2.24,0M225.46,135.78a1.12,1.35 0 1,0 2.24,0a1.12,1.35 0 1,0 -2.24,0M72.56,157.78a1.12,1.35 0 1,0 2.24,0a1.12,1.35 0 1,0 -2.24,0M75.92,157.39a1.12,1.35 0 1,0 2.24,0a1.12,1.35 0 1,0 -2.24,0M79.28,156.99a1.12,1.35 0 1,0 2.24,0a1.12,1.35 0 1,0 -2.24,0M82.66,156.60a1.12,1.35 0 1,0 2.24,0a1.12,1.35 0 1,0 -2.24,0M86.04,156.21a1.12,1.35 0 1,0 2.24,0a1.12,1.35 0 1,0 -2.24,0M89.43,155.81a1.12,1.35 0 1,0 2.24,0a1.12,1.35 0 1,0 -2.24,0M92.82,155.42a1.12,1.35 0 1,0 2.24,0a1.12,1.35 0 1,0 -2.24,0M96.23,155.02a1.12,1.35 0 1,0 2.24,0a1.12,1.35 0 1,0 -2.24,0M99.64,154.63a1.12,1.35 0 1,0 2.24,0a1.12,1.35 0 1,0 -2.24,0M103.06,154.23a1.12,1.35 0 1,0 2.24,0a1.12,1.35 0 1,0 -2.24,0M106.48,153.83a1.12,1.35 0 1,0 2.24,0a1.12,1.35 0 1,0 -2.24,0M109.91,153.43a1.12,1.35 0 1,0 2.24,0a1.12,1.35 0 1,0 -2.24,0M113.35,153.03a1.12,1.35 0 1,0 2.24,0a1.12,1.35 0 1,0 -2.24,0M116.80,152.63a1.12,1.35 0 1,0 2.24,0a1.12,1.35 0 1,0 -2.24,0M120.26,152.23a1.12,1.35 0 1,0 2.24,0a1.12,1.35 0 1,0 -2.24,0M123.72,151.83a1.12,1.35 0 1,0 2.24,0a1.12,1.35 0 1,0 -2.24,0M127.19,151.43a1.12,1.35 0 1,0 2.24,0a1.12,1.35 0 1,0 -2.24,0M130.66,151.02a1.12,1.35 0 1,0 2.24,0a1.12,1.35 0 1,0 -2.24,0M134.15,150.62a1.12,1.35 0 1,0 2.24,0a1.12,1.35 0 1,0 -2.24,0M137.64,150.21a1.12,1.35 0 1,0 2.24,0a1.12,1.35 0 1,0 -2.24,0M141.14,149.80a1.12,1.35 0 1,0 2.24,0a1.12,1.35 0 1,0 -2.24,0M144.64,149.40a1.12,1.35 0 1,0 2.24,0a1.12,1.35 0 1,0 -2.24,0M148.16,148.99a1.12,1.35 0 1,0 2.24,0a1.12,1.35 0 1,0 -2.24,0M151.68,148.58a1.12,1.35 0 1,0 2.24,0a1.12,1.35 0 1,0 -2.24,0M155.20,148.17a1.12,1.35 0 1,0 2.24,0a1.12,1.35 0 1,0 -2.24,0M158.74,147.76a1.12,1.35 0 1,0 2.24,0a1.12,1.35 0 1,0 -2.24,0M162.28,147.35a1.12,1.35 0 1,0 2.24,0a1.12,1.35 0 1,0 -2.24,0M165.83,146.93a1.12,1.35 0 1,0 2.24,0a1.12,1.35 0 1,0 -2.24,0M169.39,146.52a1.12,1.35 0 1,0 2.24,0a1.12,1.35 0 1,0 -2.24,0M172.95,146.11a1.12,1.35 0 1,0 2.24,0a1.12,1.35 0 1,0 -2.24,0M176.53,145.69a1.12,1.35 0 1,0 2.24,0a1.12,1.35 0 1,0 -2.24,0M180.10,145.28a1.12,1.35 0 1,0 2.24,0a1.12,1.35 0 1,0 -2.24,0M183.69,144.86a1.12,1.35 0 1,0 2.24,0a1.12,1.35 0 1,0 -2.24,0M187.28,144.44a1.12,1.35 0 1,0 2.24,0a1.12,1.35 0 1,0 -2.24,0M190.89,144.02a1.12,1.35 0 1,0 2.24,0a1.12,1.35 0 1,0 -2.24,0M194.49,143.60a1.12,1.35 0 1,0 2.24,0a1.12,1.35 0 1,0 -2.24,0M198.11,143.18a1.12,1.35 0 1,0 2.24,0a1.12,1.35 0 1,0 -2.24,0M201.73,142.76a1.12,1.35 0 1,0 2.24,0a1.12,1.35 0 1,0 -2.24,0M205.36,142.34a1.12,1.35 0 1,0 2.24,0a1.12,1.35 0 1,0 -2.24,0M209.00,141.92a1.12,1.35 0 1,0 2.24,0a1.12,1.35 0 1,0 -2.24,0M212.65,141.49a1.12,1.35 0 1,0 2.24,0a1.12,1.35 0 1,0 -2.24,0M216.30,141.07a1.12,1.35 0 1,0 2.24,0a1.12,1.35 0 1,0 -2.24,0M219.96,140.64a1.12,1.35 0 1,0 2.24,0a1.12,1.35 0 1,0 -2.24,0M223.62,140.22a1.12,1.35 0 1,0 2.24,0a1.12,1.35 0 1,0 -2.24,0M74.20,161.55a1.12,1.35 0 1,0 2.24,0a1.12,1.35 0 1,0 -2.24,0M77.57,161.16a1.12,1.35 0 1,0 2.24,0a1.12,1.35 0 1,0 -2.24,0M80.94,160.77a1.12,1.35 0 1,0 2.24,0a1.12,1.35 0 1,0 -2.24,0M84.32,160.39a1.12,1.35 0 1,0 2.24,0a1.12,1.35 0 1,0 -2.24,0M87.70,160.00a1.12,1.35 0 1,0 2.24,0a1.12,1.35 0 1,0 -2.24,0M91.09,159.61a1.12,1.35 0 1,0 2.24,0a1.12,1.35 0 1,0 -2.24,0M94.49,159.22a1.12,1.35 0 1,0 2.24,0a1.12,1.35 0 1,0 -2.24,0M97.90,158.83a1.12,1.35 0 1,0 2.24,0a1.12,1.35 0 1,0 -2.24,0M101.32,158.44a1.12,1.35 0 1,0 2.24,0a1.12,1.35 0 1,0 -2.24,0M104.74,158.05a1.12,1.35 0 1,0 2.24,0a1.12,1.35 0 1,0 -2.24,0M108.17,157.66a1.12,1.35 0 1,0 2.24,0a1.12,1.35 0 1,0 -2.24,0M111.61,157.26a1.12,1.35 0 1,0 2.24,0a1.12,1.35 0 1,0 -2.24,0M115.05,156.87a1.12,1.35 0 1,0 2.24,0a1.12,1.35 0 1,0 -2.24,0M118.50,156.47a1.12,1.35 0 1,0 2.24,0a1.12,1.35 0 1,0 -2.24,0M121.96,156.08a1.12,1.35 0 1,0 2.24,0a1.12,1.35 0 1,0 -2.24,0M125.43,155.68a1.12,1.35 0 1,0 2.24,0a1.12,1.35 0 1,0 -2.24,0M128.90,155.28a1.12,1.35 0 1,0 2.24,0a1.12,1.35 0 1,0 -2.24,0M132.38,154.88a1.12,1.35 0 1,0 2.24,0a1.12,1.35 0 1,0 -2.24,0M135.87,154.48a1.12,1.35 0 1,0 2.24,0a1.12,1.35 0 1,0 -2.24,0M139.37,154.08a1.12,1.35 0 1,0 2.24,0a1.12,1.35 0 1,0 -2.24,0M142.87,153.68a1.12,1.35 0 1,0 2.24,0a1.12,1.35 0 1,0 -2.24,0M146.38,153.28a1.12,1.35 0 1,0 2.24,0a1.12,1.35 0 1,0 -2.24,0M149.90,152.88a1.12,1.35 0 1,0 2.24,0a1.12,1.35 0 1,0 -2.24,0M153.42,152.47a1.12,1.35 0 1,0 2.24,0a1.12,1.35 0 1,0 -2.24,0M156.95,152.07a1.12,1.35 0 1,0 2.24,0a1.12,1.35 0 1,0 -2.24,0M160.49,151.66a1.12,1.35 0 1,0 2.24,0a1.12,1.35 0 1,0 -2.24,0M164.04,151.26a1.12,1.35 0 1,0 2.24,0a1.12,1.35 0 1,0 -2.24,0M167.60,150.85a1.12,1.35 0 1,0 2.24,0a1.12,1.35 0 1,0 -2.24,0M171.16,150.44a1.12,1.35 0 1,0 2.24,0a1.12,1.35 0 1,0 -2.24,0M174.73,150.03a1.12,1.35 0 1,0 2.24,0a1.12,1.35 0 1,0 -2.24,0M178.30,149.62a1.12,1.35 0 1,0 2.24,0a1.12,1.35 0 1,0 -2.24,0M181.89,149.21a1.12,1.35 0 1,0 2.24,0a1.12,1.35 0 1,0 -2.24,0M185.48,148.80a1.12,1.35 0 1,0 2.24,0a1.12,1.35 0 1,0 -2.24,0M189.08,148.39a1.12,1.35 0 1,0 2.24,0a1.12,1.35 0 1,0 -2.24,0M192.68,147.98a1.12,1.35 0 1,0 2.24,0a1.12,1.35 0 1,0 -2.24,0M196.29,147.56a1.12,1.35 0 1,0 2.24,0a1.12,1.35 0 1,0 -2.24,0M199.91,147.15a1.12,1.35 0 1,0 2.24,0a1.12,1.35 0 1,0 -2.24,0M203.54,146.73a1.12,1.35 0 1,0 2.24,0a1.12,1.35 0 1,0 -2.24,0M207.18,146.32a1.12,1.35 0 1,0 2.24,0a1.12,1.35 0 1,0 -2.24,0M210.82,145.90a1.12,1.35 0 1,0 2.24,0a1.12,1.35 0 1,0 -2.24,0M214.47,145.48a1.12,1.35 0 1,0 2.24,0a1.12,1.35 0 1,0 -2.24,0M218.13,145.06a1.12,1.35 0 1,0 2.24,0a1.12,1.35 0 1,0 -2.24,0M221.79,144.64a1.12,1.35 0 1,0 2.24,0a1.12,1.35 0 1,0 -2.24,0M225.46,144.22a1.12,1.35 0 1,0 2.24,0a1.12,1.35 0 1,0 -2.24,0M72.49,165.70a1.12,1.35 0 1,0 2.24,0a1.12,1.35 0 1,0 -2.24,0M75.85,165.32a1.12,1.35 0 1,0 2.24,0a1.12,1.35 0 1,0 -2.24,0M79.22,164.94a1.12,1.35 0 1,0 2.24,0a1.12,1.35 0 1,0 -2.24,0M82.59,164.56a1.12,1.35 0 1,0 2.24,0a1.12,1.35 0 1,0 -2.24,0M85.97,164.18a1.12,1.35 0 1,0 2.24,0a1.12,1.35 0 1,0 -2.24,0M89.36,163.80a1.12,1.35 0 1,0 2.24,0a1.12,1.35 0 1,0 -2.24,0M92.76,163.41a1.12,1.35 0 1,0 2.24,0a1.12,1.35 0 1,0 -2.24,0M96.17,163.03a1.12,1.35 0 1,0 2.24,0a1.12,1.35 0 1,0 -2.24,0M99.58,162.64a1.12,1.35 0 1,0 2.24,0a1.12,1.35 0 1,0 -2.24,0M103.00,162.26a1.12,1.35 0 1,0 2.24,0a1.12,1.35 0 1,0 -2.24,0M106.43,161.87a1.12,1.35 0 1,0 2.24,0a1.12,1.35 0 1,0 -2.24,0M109.86,161.48a1.12,1.35 0 1,0 2.24,0a1.12,1.35 0 1,0 -2.24,0M113.30,161.10a1.12,1.35 0 1,0 2.24,0a1.12,1.35 0 1,0 -2.24,0M116.75,160.71a1.12,1.35 0 1,0 2.24,0a1.12,1.35 0 1,0 -2.24,0M120.21,160.32a1.12,1.35 0 1,0 2.24,0a1.12,1.35 0 1,0 -2.24,0M123.67,159.93a1.12,1.35 0 1,0 2.24,0a1.12,1.35 0 1,0 -2.24,0M127.14,159.53a1.12,1.35 0 1,0 2.24,0a1.12,1.35 0 1,0 -2.24,0M130.62,159.14a1.12,1.35 0 1,0 2.24,0a1.12,1.35 0 1,0 -2.24,0M134.10,158.75a1.12,1.35 0 1,0 2.24,0a1.12,1.35 0 1,0 -2.24,0M137.60,158.35a1.12,1.35 0 1,0 2.24,0a1.12,1.35 0 1,0 -2.24,0M141.10,157.96a1.12,1.35 0 1,0 2.24,0a1.12,1.35 0 1,0 -2.24,0M144.61,157.56a1.12,1.35 0 1,0 2.24,0a1.12,1.35 0 1,0 -2.24,0M148.12,157.17a1.12,1.35 0 1,0 2.24,0a1.12,1.35 0 1,0 -2.24,0M151.64,156.77a1.12,1.35 0 1,0 2.24,0a1.12,1.35 0 1,0 -2.24,0M155.17,156.37a1.12,1.35 0 1,0 2.24,0a1.12,1.35 0 1,0 -2.24,0M158.71,155.97a1.12,1.35 0 1,0 2.24,0a1.12,1.35 0 1,0 -2.24,0M162.25,155.57a1.12,1.35 0 1,0 2.24,0a1.12,1.35 0 1,0 -2.24,0M165.80,155.17a1.12,1.35 0 1,0 2.24,0a1.12,1.35 0 1,0 -2.24,0M169.36,154.77a1.12,1.35 0 1,0 2.24,0a1.12,1.35 0 1,0 -2.24,0M172.93,154.37a1.12,1.35 0 1,0 2.24,0a1.12,1.35 0 1,0 -2.24,0M176.50,153.97a1.12,1.35 0 1,0 2.24,0a1.12,1.35 0 1,0 -2.24,0M180.08,153.56a1.12,1.35 0 1,0 2.24,0a1.12,1.35 0 1,0 -2.24,0M183.67,153.16a1.12,1.35 0 1,0 2.24,0a1.12,1.35 0 1,0 -2.24,0M187.27,152.75a1.12,1.35 0 1,0 2.24,0a1.12,1.35 0 1,0 -2.24,0M190.87,152.35a1.12,1.35 0 1,0 2.24,0a1.12,1.35 0 1,0 -2.24,0M194.48,151.94a1.12,1.35 0 1,0 2.24,0a1.12,1.35 0 1,0 -2.24,0M198.10,151.53a1.12,1.35 0 1,0 2.24,0a1.12,1.35 0 1,0 -2.24,0M201.72,151.12a1.12,1.35 0 1,0 2.24,0a1.12,1.35 0 1,0 -2.24,0M205.35,150.71a1.12,1.35 0 1,0 2.24,0a1.12,1.35 0 1,0 -2.24,0M208.99,150.30a1.12,1.35 0 1,0 2.24,0a1.12,1.35 0 1,0 -2.24,0M212.64,149.89a1.12,1.35 0 1,0 2.24,0a1.12,1.35 0 1,0 -2.24,0M216.29,149.48a1.12,1.35 0 1,0 2.24,0a1.12,1.35 0 1,0 -2.24,0M219.95,149.06a1.12,1.35 0 1,0 2.24,0a1.12,1.35 0 1,0 -2.24,0M223.62,148.65a1.12,1.35 0 1,0 2.24,0a1.12,1.35 0 1,0 -2.24,0M74.13,169.48a1.12,1.35 0 1,0 2.24,0a1.12,1.35 0 1,0 -2.24,0M77.50,169.10a1.12,1.35 0 1,0 2.24,0a1.12,1.35 0 1,0 -2.24,0M80.87,168.73a1.12,1.35 0 1,0 2.24,0a1.12,1.35 0 1,0 -2.24,0M84.25,168.35a1.12,1.35 0 1,0 2.24,0a1.12,1.35 0 1,0 -2.24,0M87.64,167.98a1.12,1.35 0 1,0 2.24,0a1.12,1.35 0 1,0 -2.24,0M91.03,167.60a1.12,1.35 0 1,0 2.24,0a1.12,1.35 0 1,0 -2.24,0M94.43,167.22a1.12,1.35 0 1,0 2.24,0a1.12,1.35 0 1,0 -2.24,0M97.84,166.84a1.12,1.35 0 1,0 2.24,0a1.12,1.35 0 1,0 -2.24,0M101.26,166.46a1.12,1.35 0 1,0 2.24,0a1.12,1.35 0 1,0 -2.24,0M104.68,166.08a1.12,1.35 0 1,0 2.24,0a1.12,1.35 0 1,0 -2.24,0M108.11,165.70a1.12,1.35 0 1,0 2.24,0a1.12,1.35 0 1,0 -2.24,0M111.55,165.32a1.12,1.35 0 1,0 2.24,0a1.12,1.35 0 1,0 -2.24,0M115.00,164.94a1.12,1.35 0 1,0 2.24,0a1.12,1.35 0 1,0 -2.24,0M118.45,164.55a1.12,1.35 0 1,0 2.24,0a1.12,1.35 0 1,0 -2.24,0M121.91,164.17a1.12,1.35 0 1,0 2.24,0a1.12,1.35 0 1,0 -2.24,0M125.38,163.78a1.12,1.35 0 1,0 2.24,0a1.12,1.35 0 1,0 -2.24,0M128.86,163.40a1.12,1.35 0 1,0 2.24,0a1.12,1.35 0 1,0 -2.24,0M132.34,163.01a1.12,1.35 0 1,0 2.24,0a1.12,1.35 0 1,0 -2.24,0M135.83,162.62a1.12,1.35 0 1,0 2.24,0a1.12,1.35 0 1,0 -2.24,0M139.33,162.23a1.12,1.35 0 1,0 2.24,0a1.12,1.35 0 1,0 -2.24,0M142.83,161.84a1.12,1.35 0 1,0 2.24,0a1.12,1.35 0 1,0 -2.24,0M146.34,161.45a1.12,1.35 0 1,0 2.24,0a1.12,1.35 0 1,0 -2.24,0M149.86,161.06a1.12,1.35 0 1,0 2.24,0a1.12,1.35 0 1,0 -2.24,0M153.39,160.67a1.12,1.35 0 1,0 2.24,0a1.12,1.35 0 1,0 -2.24,0M156.92,160.28a1.12,1.35 0 1,0 2.24,0a1.12,1.35 0 1,0 -2.24,0M160.46,159.88a1.12,1.35 0 1,0 2.24,0a1.12,1.35 0 1,0 -2.24,0M164.01,159.49a1.12,1.35 0 1,0 2.24,0a1.12,1.35 0 1,0 -2.24,0M167.57,159.09a1.12,1.35 0 1,0 2.24,0a1.12,1.35 0 1,0 -2.24,0M171.13,158.70a1.12,1.35 0 1,0 2.24,0a1.12,1.35 0 1,0 -2.24,0M174.70,158.30a1.12,1.35 0 1,0 2.24,0a1.12,1.35 0 1,0 -2.24,0M178.28,157.90a1.12,1.35 0 1,0 2.24,0a1.12,1.35 0 1,0 -2.24,0M181.87,157.51a1.12,1.35 0 1,0 2.24,0a1.12,1.35 0 1,0 -2.24,0M185.46,157.11a1.12,1.35 0 1,0 2.24,0a1.12,1.35 0 1,0 -2.24,0M189.06,156.71a1.12,1.35 0 1,0 2.24,0a1.12,1.35 0 1,0 -2.24,0M192.67,156.31a1.12,1.35 0 1,0 2.24,0a1.12,1.35 0 1,0 -2.24,0M196.28,155.90a1.12,1.35 0 1,0 2.24,0a1.12,1.35 0 1,0 -2.24,0M199.90,155.50a1.12,1.35 0 1,0 2.24,0a1.12,1.35 0 1,0 -2.24,0M203.53,155.10a1.12,1.35 0 1,0 2.24,0a1.12,1.35 0 1,0 -2.24,0M207.17,154.70a1.12,1.35 0 1,0 2.24,0a1.12,1.35 0 1,0 -2.24,0M210.81,154.29a1.12,1.35 0 1,0 2.24,0a1.12,1.35 0 1,0 -2.24,0M214.46,153.88a1.12,1.35 0 1,0 2.24,0a1.12,1.35 0 1,0 -2.24,0M218.12,153.48a1.12,1.35 0 1,0 2.24,0a1.12,1.35 0 1,0 -2.24,0M221.79,153.07a1.12,1.35 0 1,0 2.24,0a1.12,1.35 0 1,0 -2.24,0M225.46,152.66a1.12,1.35 0 1,0 2.24,0a1.12,1.35 0 1,0 -2.24,0M72.42,173.62a1.12,1.35 0 1,0 2.24,0a1.12,1.35 0 1,0 -2.24,0M75.78,173.26a1.12,1.35 0 1,0 2.24,0a1.12,1.35 0 1,0 -2.24,0M79.15,172.89a1.12,1.35 0 1,0 2.24,0a1.12,1.35 0 1,0 -2.24,0M82.53,172.52a1.12,1.35 0 1,0 2.24,0a1.12,1.35 0 1,0 -2.24,0M85.91,172.15a1.12,1.35 0 1,0 2.24,0a1.12,1.35 0 1,0 -2.24,0M89.30,171.78a1.12,1.35 0 1,0 2.24,0a1.12,1.35 0 1,0 -2.24,0M92.70,171.41a1.12,1.35 0 1,0 2.24,0a1.12,1.35 0 1,0 -2.24,0M96.11,171.03a1.12,1.35 0 1,0 2.24,0a1.12,1.35 0 1,0 -2.24,0M99.52,170.66a1.12,1.35 0 1,0 2.24,0a1.12,1.35 0 1,0 -2.24,0M102.94,170.28a1.12,1.35 0 1,0 2.24,0a1.12,1.35 0 1,0 -2.24,0M106.37,169.91a1.12,1.35 0 1,0 2.24,0a1.12,1.35 0 1,0 -2.24,0M109.81,169.53a1.12,1.35 0 1,0 2.24,0a1.12,1.35 0 1,0 -2.24,0M113.25,169.16a1.12,1.35 0 1,0 2.24,0a1.12,1.35 0 1,0 -2.24,0M116.70,168.78a1.12,1.35 0 1,0 2.24,0a1.12,1.35 0 1,0 -2.24,0M120.16,168.40a1.12,1.35 0 1,0 2.24,0a1.12,1.35 0 1,0 -2.24,0M123.62,168.02a1.12,1.35 0 1,0 2.24,0a1.12,1.35 0 1,0 -2.24,0M127.10,167.64a1.12,1.35 0 1,0 2.24,0a1.12,1.35 0 1,0 -2.24,0M130.57,167.26a1.12,1.35 0 1,0 2.24,0a1.12,1.35 0 1,0 -2.24,0M134.06,166.88a1.12,1.35 0 1,0 2.24,0a1.12,1.35 0 1,0 -2.24,0M137.56,166.50a1.12,1.35 0 1,0 2.24,0a1.12,1.35 0 1,0 -2.24,0M141.06,166.12a1.12,1.35 0 1,0 2.24,0a1.12,1.35 0 1,0 -2.24,0M144.57,165.73a1.12,1.35 0 1,0 2.24,0a1.12,1.35 0 1,0 -2.24,0M148.08,165.35a1.12,1.35 0 1,0 2.24,0a1.12,1.35 0 1,0 -2.24,0M151.61,164.96a1.12,1.35 0 1,0 2.24,0a1.12,1.35 0 1,0 -2.24,0M155.14,164.58a1.12,1.35 0 1,0 2.24,0a1.12,1.35 0 1,0 -2.24,0M158.68,164.19a1.12,1.35 0 1,0 2.24,0a1.12,1.35 0 1,0 -2.24,0M162.22,163.80a1.12,1.35 0 1,0 2.24,0a1.12,1.35 0 1,0 -2.24,0M165.78,163.41a1.12,1.35 0 1,0 2.24,0a1.12,1.35 0 1,0 -2.24,0M169.34,163.02a1.12,1.35 0 1,0 2.24,0a1.12,1.35 0 1,0 -2.24,0M172.90,162.63a1.12,1.35 0 1,0 2.24,0a1.12,1.35 0 1,0 -2.24,0M176.48,162.24a1.12,1.35 0 1,0 2.24,0a1.12,1.35 0 1,0 -2.24,0M180.06,161.85a1.12,1.35 0 1,0 2.24,0a1.12,1.35 0 1,0 -2.24,0M183.65,161.46a1.12,1.35 0 1,0 2.24,0a1.12,1.35 0 1,0 -2.24,0M187.25,161.06a1.12,1.35 0 1,0 2.24,0a1.12,1.35 0 1,0 -2.24,0M190.85,160.67a1.12,1.35 0 1,0 2.24,0a1.12,1.35 0 1,0 -2.24,0M194.46,160.27a1.12,1.35 0 1,0 2.24,0a1.12,1.35 0 1,0 -2.24,0M198.08,159.88a1.12,1.35 0 1,0 2.24,0a1.12,1.35 0 1,0 -2.24,0M201.71,159.48a1.12,1.35 0 1,0 2.24,0a1.12,1.35 0 1,0 -2.24,0M205.34,159.08a1.12,1.35 0 1,0 2.24,0a1.12,1.35 0 1,0 -2.24,0M208.98,158.68a1.12,1.35 0 1,0 2.24,0a1.12,1.35 0 1,0 -2.24,0M212.63,158.29a1.12,1.35 0 1,0 2.24,0a1.12,1.35 0 1,0 -2.24,0M216.29,157.89a1.12,1.35 0 1,0 2.24,0a1.12,1.35 0 1,0 -2.24,0M219.95,157.49a1.12,1.35 0 1,0 2.24,0a1.12,1.35 0 1,0 -2.24,0M223.62,157.08a1.12,1.35 0 1,0 2.24,0a1.12,1.35 0 1,0 -2.24,0M74.06,177.41a1.12,1.35 0 1,0 2.24,0a1.12,1.35 0 1,0 -2.24,0M77.43,177.04a1.12,1.35 0 1,0 2.24,0a1.12,1.35 0 1,0 -2.24,0M80.80,176.68a1.12,1.35 0 1,0 2.24,0a1.12,1.35 0 1,0 -2.24,0M84.18,176.32a1.12,1.35 0 1,0 2.24,0a1.12,1.35 0 1,0 -2.24,0M87.57,175.95a1.12,1.35 0 1,0 2.24,0a1.12,1.35 0 1,0 -2.24,0M90.97,175.58a1.12,1.35 0 1,0 2.24,0a1.12,1.35 0 1,0 -2.24,0M94.37,175.22a1.12,1.35 0 1,0 2.24,0a1.12,1.35 0 1,0 -2.24,0M97.78,174.85a1.12,1.35 0 1,0 2.24,0a1.12,1.35 0 1,0 -2.24,0M101.20,174.48a1.12,1.35 0 1,0 2.24,0a1.12,1.35 0 1,0 -2.24,0M104.63,174.11a1.12,1.35 0 1,0 2.24,0a1.12,1.35 0 1,0 -2.24,0M108.06,173.74a1.12,1.35 0 1,0 2.24,0a1.12,1.35 0 1,0 -2.24,0M111.50,173.37a1.12,1.35 0 1,0 2.24,0a1.12,1.35 0 1,0 -2.24,0M114.95,173.00a1.12,1.35 0 1,0 2.24,0a1.12,1.35 0 1,0 -2.24,0M118.40,172.63a1.12,1.35 0 1,0 2.24,0a1.12,1.35 0 1,0 -2.24,0M121.87,172.26a1.12,1.35 0 1,0 2.24,0a1.12,1.35 0 1,0 -2.24,0M125.33,171.88a1.12,1.35 0 1,0 2.24,0a1.12,1.35 0 1,0 -2.24,0M128.81,171.51a1.12,1.35 0 1,0 2.24,0a1.12,1.35 0 1,0 -2.24,0M132.30,171.13a1.12,1.35 0 1,0 2.24,0a1.12,1.35 0 1,0 -2.24,0M135.79,170.76a1.12,1.35 0 1,0 2.24,0a1.12,1.35 0 1,0 -2.24,0M139.29,170.38a1.12,1.35 0 1,0 2.24,0a1.12,1.35 0 1,0 -2.24,0M142.79,170.00a1.12,1.35 0 1,0 2.24,0a1.12,1.35 0 1,0 -2.24,0M146.31,169.63a1.12,1.35 0 1,0 2.24,0a1.12,1.35 0 1,0 -2.24,0M149.83,169.25a1.12,1.35 0 1,0 2.24,0a1.12,1.35 0 1,0 -2.24,0M153.36,168.87a1.12,1.35 0 1,0 2.24,0a1.12,1.35 0 1,0 -2.24,0M156.89,168.49a1.12,1.35 0 1,0 2.24,0a1.12,1.35 0 1,0 -2.24,0M160.43,168.10a1.12,1.35 0 1,0 2.24,0a1.12,1.35 0 1,0 -2.24,0M163.98,167.72a1.12,1.35 0 1,0 2.24,0a1.12,1.35 0 1,0 -2.24,0M167.54,167.34a1.12,1.35 0 1,0 2.24,0a1.12,1.35 0 1,0 -2.24,0M171.11,166.96a1.12,1.35 0 1,0 2.24,0a1.12,1.35 0 1,0 -2.24,0M174.68,166.57a1.12,1.35 0 1,0 2.24,0a1.12,1.35 0 1,0 -2.24,0M178.26,166.19a1.12,1.35 0 1,0 2.24,0a1.12,1.35 0 1,0 -2.24,0M181.85,165.80a1.12,1.35 0 1,0 2.24,0a1.12,1.35 0 1,0 -2.24,0M185.44,165.41a1.12,1.35 0 1,0 2.24,0a1.12,1.35 0 1,0 -2.24,0M189.04,165.02a1.12,1.35 0 1,0 2.24,0a1.12,1.35 0 1,0 -2.24,0M192.65,164.64a1.12,1.35 0 1,0 2.24,0a1.12,1.35 0 1,0 -2.24,0M196.27,164.25a1.12,1.35 0 1,0 2.24,0a1.12,1.35 0 1,0 -2.24,0M199.89,163.86a1.12,1.35 0 1,0 2.24,0a1.12,1.35 0 1,0 -2.24,0M203.52,163.47a1.12,1.35 0 1,0 2.24,0a1.12,1.35 0 1,0 -2.24,0M207.16,163.07a1.12,1.35 0 1,0 2.24,0a1.12,1.35 0 1,0 -2.24,0M210.80,162.68a1.12,1.35 0 1,0 2.24,0a1.12,1.35 0 1,0 -2.24,0M214.46,162.29a1.12,1.35 0 1,0 2.24,0a1.12,1.35 0 1,0 -2.24,0M218.12,161.89a1.12,1.35 0 1,0 2.24,0a1.12,1.35 0 1,0 -2.24,0M221.79,161.50a1.12,1.35 0 1,0 2.24,0a1.12,1.35 0 1,0 -2.24,0M225.46,161.10a1.12,1.35 0 1,0 2.24,0a1.12,1.35 0 1,0 -2.24,0M72.34,181.55a1.12,1.35 0 1,0 2.24,0a1.12,1.35 0 1,0 -2.24,0M75.71,181.19a1.12,1.35 0 1,0 2.24,0a1.12,1.35 0 1,0 -2.24,0M79.08,180.83a1.12,1.35 0 1,0 2.24,0a1.12,1.35 0 1,0 -2.24,0M82.46,180.48a1.12,1.35 0 1,0 2.24,0a1.12,1.35 0 1,0 -2.24,0M85.84,180.12a1.12,1.35 0 1,0 2.24,0a1.12,1.35 0 1,0 -2.24,0M89.24,179.76a1.12,1.35 0 1,0 2.24,0a1.12,1.35 0 1,0 -2.24,0M92.64,179.40a1.12,1.35 0 1,0 2.24,0a1.12,1.35 0 1,0 -2.24,0M96.05,179.04a1.12,1.35 0 1,0 2.24,0a1.12,1.35 0 1,0 -2.24,0M99.46,178.67a1.12,1.35 0 1,0 2.24,0a1.12,1.35 0 1,0 -2.24,0M102.89,178.31a1.12,1.35 0 1,0 2.24,0a1.12,1.35 0 1,0 -2.24,0M106.32,177.95a1.12,1.35 0 1,0 2.24,0a1.12,1.35 0 1,0 -2.24,0M109.75,177.58a1.12,1.35 0 1,0 2.24,0a1.12,1.35 0 1,0 -2.24,0M113.20,177.22a1.12,1.35 0 1,0 2.24,0a1.12,1.35 0 1,0 -2.24,0M116.65,176.85a1.12,1.35 0 1,0 2.24,0a1.12,1.35 0 1,0 -2.24,0M120.11,176.49a1.12,1.35 0 1,0 2.24,0a1.12,1.35 0 1,0 -2.24,0M123.58,176.12a1.12,1.35 0 1,0 2.24,0a1.12,1.35 0 1,0 -2.24,0M127.05,175.75a1.12,1.35 0 1,0 2.24,0a1.12,1.35 0 1,0 -2.24,0M130.53,175.38a1.12,1.35 0 1,0 2.24,0a1.12,1.35 0 1,0 -2.24,0M134.02,175.01a1.12,1.35 0 1,0 2.24,0a1.12,1.35 0 1,0 -2.24,0M137.52,174.64a1.12,1.35 0 1,0 2.24,0a1.12,1.35 0 1,0 -2.24,0M141.02,174.27a1.12,1.35 0 1,0 2.24,0a1.12,1.35 0 1,0 -2.24,0M144.53,173.90a1.12,1.35 0 1,0 2.24,0a1.12,1.35 0 1,0 -2.24,0M148.05,173.53a1.12,1.35 0 1,0 2.24,0a1.12,1.35 0 1,0 -2.24,0M151.57,173.15a1.12,1.35 0 1,0 2.24,0a1.12,1.35 0 1,0 -2.24,0M155.11,172.78a1.12,1.35 0 1,0 2.24,0a1.12,1.35 0 1,0 -2.24,0M158.65,172.40a1.12,1.35 0 1,0 2.24,0a1.12,1.35 0 1,0 -2.24,0M162.19,172.03a1.12,1.35 0 1,0 2.24,0a1.12,1.35 0 1,0 -2.24,0M165.75,171.65a1.12,1.35 0 1,0 2.24,0a1.12,1.35 0 1,0 -2.24,0M169.31,171.27a1.12,1.35 0 1,0 2.24,0a1.12,1.35 0 1,0 -2.24,0M172.88,170.89a1.12,1.35 0 1,0 2.24,0a1.12,1.35 0 1,0 -2.24,0M176.46,170.52a1.12,1.35 0 1,0 2.24,0a1.12,1.35 0 1,0 -2.24,0M180.04,170.14a1.12,1.35 0 1,0 2.24,0a1.12,1.35 0 1,0 -2.24,0M183.63,169.76a1.12,1.35 0 1,0 2.24,0a1.12,1.35 0 1,0 -2.24,0M187.23,169.37a1.12,1.35 0 1,0 2.24,0a1.12,1.35 0 1,0 -2.24,0M190.84,168.99a1.12,1.35 0 1,0 2.24,0a1.12,1.35 0 1,0 -2.24,0M194.45,168.61a1.12,1.35 0 1,0 2.24,0a1.12,1.35 0 1,0 -2.24,0M198.07,168.23a1.12,1.35 0 1,0 2.24,0a1.12,1.35 0 1,0 -2.24,0M201.70,167.84a1.12,1.35 0 1,0 2.24,0a1.12,1.35 0 1,0 -2.24,0M205.33,167.46a1.12,1.35 0 1,0 2.24,0a1.12,1.35 0 1,0 -2.24,0M208.98,167.07a1.12,1.35 0 1,0 2.24,0a1.12,1.35 0 1,0 -2.24,0M212.63,166.68a1.12,1.35 0 1,0 2.24,0a1.12,1.35 0 1,0 -2.24,0M216.28,166.29a1.12,1.35 0 1,0 2.24,0a1.12,1.35 0 1,0 -2.24,0M219.95,165.91a1.12,1.35 0 1,0 2.24,0a1.12,1.35 0 1,0 -2.24,0M223.62,165.52a1.12,1.35 0 1,0 2.24,0a1.12,1.35 0 1,0 -2.24,0M73.99,185.34a1.12,1.35 0 1,0 2.24,0a1.12,1.35 0 1,0 -2.24,0M77.36,184.98a1.12,1.35 0 1,0 2.24,0a1.12,1.35 0 1,0 -2.24,0M80.74,184.63a1.12,1.35 0 1,0 2.24,0a1.12,1.35 0 1,0 -2.24,0M84.12,184.28a1.12,1.35 0 1,0 2.24,0a1.12,1.35 0 1,0 -2.24,0M87.51,183.93a1.12,1.35 0 1,0 2.24,0a1.12,1.35 0 1,0 -2.24,0M90.91,183.57a1.12,1.35 0 1,0 2.24,0a1.12,1.35 0 1,0 -2.24,0M94.31,183.22a1.12,1.35 0 1,0 2.24,0a1.12,1.35 0 1,0 -2.24,0M97.72,182.86a1.12,1.35 0 1,0 2.24,0a1.12,1.35 0 1,0 -2.24,0M101.14,182.50a1.12,1.35 0 1,0 2.24,0a1.12,1.35 0 1,0 -2.24,0M104.57,182.15a1.12,1.35 0 1,0 2.24,0a1.12,1.35 0 1,0 -2.24,0M108.01,181.79a1.12,1.35 0 1,0 2.24,0a1.12,1.35 0 1,0 -2.24,0M111.45,181.43a1.12,1.35 0 1,0 2.24,0a1.12,1.35 0 1,0 -2.24,0M114.90,181.07a1.12,1.35 0 1,0 2.24,0a1.12,1.35 0 1,0 -2.24,0M118.35,180.71a1.12,1.35 0 1,0 2.24,0a1.12,1.35 0 1,0 -2.24,0M121.82,180.35a1.12,1.35 0 1,0 2.24,0a1.12,1.35 0 1,0 -2.24,0M125.29,179.99a1.12,1.35 0 1,0 2.24,0a1.12,1.35 0 1,0 -2.24,0M128.77,179.62a1.12,1.35 0 1,0 2.24,0a1.12,1.35 0 1,0 -2.24,0M132.25,179.26a1.12,1.35 0 1,0 2.24,0a1.12,1.35 0 1,0 -2.24,0M135.75,178.90a1.12,1.35 0 1,0 2.24,0a1.12,1.35 0 1,0 -2.24,0M139.25,178.53a1.12,1.35 0 1,0 2.24,0a1.12,1.35 0 1,0 -2.24,0M142.75,178.17a1.12,1.35 0 1,0 2.24,0a1.12,1.35 0 1,0 -2.24,0M146.27,177.80a1.12,1.35 0 1,0 2.24,0a1.12,1.35 0 1,0 -2.24,0M149.79,177.43a1.12,1.35 0 1,0 2.24,0a1.12,1.35 0 1,0 -2.24,0M153.32,177.06a1.12,1.35 0 1,0 2.24,0a1.12,1.35 0 1,0 -2.24,0M156.86,176.70a1.12,1.35 0 1,0 2.24,0a1.12,1.35 0 1,0 -2.24,0M160.40,176.33a1.12,1.35 0 1,0 2.24,0a1.12,1.35 0 1,0 -2.24,0M163.96,175.96a1.12,1.35 0 1,0 2.24,0a1.12,1.35 0 1,0 -2.24,0M167.51,175.58a1.12,1.35 0 1,0 2.24,0a1.12,1.35 0 1,0 -2.24,0M171.08,175.21a1.12,1.35 0 1,0 2.24,0a1.12,1.35 0 1,0 -2.24,0M174.65,174.84a1.12,1.35 0 1,0 2.24,0a1.12,1.35 0 1,0 -2.24,0M178.24,174.47a1.12,1.35 0 1,0 2.24,0a1.12,1.35 0 1,0 -2.24,0M181.82,174.09a1.12,1.35 0 1,0 2.24,0a1.12,1.35 0 1,0 -2.24,0M185.42,173.72a1.12,1.35 0 1,0 2.24,0a1.12,1.35 0 1,0 -2.24,0M189.02,173.34a1.12,1.35 0 1,0 2.24,0a1.12,1.35 0 1,0 -2.24,0M192.63,172.96a1.12,1.35 0 1,0 2.24,0a1.12,1.35 0 1,0 -2.24,0M196.25,172.59a1.12,1.35 0 1,0 2.24,0a1.12,1.35 0 1,0 -2.24,0M199.88,172.21a1.12,1.35 0 1,0 2.24,0a1.12,1.35 0 1,0 -2.24,0M203.51,171.83a1.12,1.35 0 1,0 2.24,0a1.12,1.35 0 1,0 -2.24,0M207.15,171.45a1.12,1.35 0 1,0 2.24,0a1.12,1.35 0 1,0 -2.24,0M210.80,171.07a1.12,1.35 0 1,0 2.24,0a1.12,1.35 0 1,0 -2.24,0M214.45,170.69a1.12,1.35 0 1,0 2.24,0a1.12,1.35 0 1,0 -2.24,0M218.11,170.31a1.12,1.35 0 1,0 2.24,0a1.12,1.35 0 1,0 -2.24,0M221.78,169.93a1.12,1.35 0 1,0 2.24,0a1.12,1.35 0 1,0 -2.24,0M225.46,169.54a1.12,1.35 0 1,0 2.24,0a1.12,1.35 0 1,0 -2.24,0M72.27,189.47a1.12,1.35 0 1,0 2.24,0a1.12,1.35 0 1,0 -2.24,0M75.64,189.13a1.12,1.35 0 1,0 2.24,0a1.12,1.35 0 1,0 -2.24,0M79.01,188.78a1.12,1.35 0 1,0 2.24,0a1.12,1.35 0 1,0 -2.24,0M82.39,188.43a1.12,1.35 0 1,0 2.24,0a1.12,1.35 0 1,0 -2.24,0M85.78,188.09a1.12,1.35 0 1,0 2.24,0a1.12,1.35 0 1,0 -2.24,0M89.18,187.74a1.12,1.35 0 1,0 2.24,0a1.12,1.35 0 1,0 -2.24,0M92.58,187.39a1.12,1.35 0 1,0 2.24,0a1.12,1.35 0 1,0 -2.24,0M95.99,187.04a1.12,1.35 0 1,0 2.24,0a1.12,1.35 0 1,0 -2.24,0M99.40,186.69a1.12,1.35 0 1,0 2.24,0a1.12,1.35 0 1,0 -2.24,0M102.83,186.34a1.12,1.35 0 1,0 2.24,0a1.12,1.35 0 1,0 -2.24,0M106.26,185.99a1.12,1.35 0 1,0 2.24,0a1.12,1.35 0 1,0 -2.24,0M109.70,185.63a1.12,1.35 0 1,0 2.24,0a1.12,1.35 0 1,0 -2.24,0M113.14,185.28a1.12,1.35 0 1,0 2.24,0a1.12,1.35 0 1,0 -2.24,0M116.60,184.93a1.12,1.35 0 1,0 2.24,0a1.12,1.35 0 1,0 -2.24,0M120.06,184.57a1.12,1.35 0 1,0 2.24,0a1.12,1.35 0 1,0 -2.24,0M123.53,184.22a1.12,1.35 0 1,0 2.24,0a1.12,1.35 0 1,0 -2.24,0M127.00,183.86a1.12,1.35 0 1,0 2.24,0a1.12,1.35 0 1,0 -2.24,0M130.49,183.50a1.12,1.35 0 1,0 2.24,0a1.12,1.35 0 1,0 -2.24,0M133.98,183.14a1.12,1.35 0 1,0 2.24,0a1.12,1.35 0 1,0 -2.24,0M137.47,182.79a1.12,1.35 0 1,0 2.24,0a1.12,1.35 0 1,0 -2.24,0M140.98,182.43a1.12,1.35 0 1,0 2.24,0a1.12,1.35 0 1,0 -2.24,0M144.49,182.07a1.12,1.35 0 1,0 2.24,0a1.12,1.35 0 1,0 -2.24,0M148.01,181.71a1.12,1.35 0 1,0 2.24,0a1.12,1.35 0 1,0 -2.24,0M151.54,181.34a1.12,1.35 0 1,0 2.24,0a1.12,1.35 0 1,0 -2.24,0M155.07,180.98a1.12,1.35 0 1,0 2.24,0a1.12,1.35 0 1,0 -2.24,0M158.61,180.62a1.12,1.35 0 1,0 2.24,0a1.12,1.35 0 1,0 -2.24,0M162.16,180.25a1.12,1.35 0 1,0 2.24,0a1.12,1.35 0 1,0 -2.24,0M165.72,179.89a1.12,1.35 0 1,0 2.24,0a1.12,1.35 0 1,0 -2.24,0M169.28,179.52a1.12,1.35 0 1,0 2.24,0a1.12,1.35 0 1,0 -2.24,0M172.85,179.16a1.12,1.35 0 1,0 2.24,0a1.12,1.35 0 1,0 -2.24,0M176.43,178.79a1.12,1.35 0 1,0 2.24,0a1.12,1.35 0 1,0 -2.24,0M180.02,178.42a1.12,1.35 0 1,0 2.24,0a1.12,1.35 0 1,0 -2.24,0M183.61,178.05a1.12,1.35 0 1,0 2.24,0a1.12,1.35 0 1,0 -2.24,0M187.21,177.68a1.12,1.35 0 1,0 2.24,0a1.12,1.35 0 1,0 -2.24,0M190.82,177.31a1.12,1.35 0 1,0 2.24,0a1.12,1.35 0 1,0 -2.24,0M194.44,176.94a1.12,1.35 0 1,0 2.24,0a1.12,1.35 0 1,0 -2.24,0M198.06,176.57a1.12,1.35 0 1,0 2.24,0a1.12,1.35 0 1,0 -2.24,0M201.69,176.20a1.12,1.35 0 1,0 2.24,0a1.12,1.35 0 1,0 -2.24,0M205.32,175.83a1.12,1.35 0 1,0 2.24,0a1.12,1.35 0 1,0 -2.24,0M208.97,175.45a1.12,1.35 0 1,0 2.24,0a1.12,1.35 0 1,0 -2.24,0M212.62,175.08a1.12,1.35 0 1,0 2.24,0a1.12,1.35 0 1,0 -2.24,0M216.28,174.70a1.12,1.35 0 1,0 2.24,0a1.12,1.35 0 1,0 -2.24,0M219.95,174.33a1.12,1.35 0 1,0 2.24,0a1.12,1.35 0 1,0 -2.24,0M223.62,173.95a1.12,1.35 0 1,0 2.24,0a1.12,1.35 0 1,0 -2.24,0M73.92,193.27a1.12,1.35 0 1,0 2.24,0a1.12,1.35 0 1,0 -2.24,0M77.29,192.93a1.12,1.35 0 1,0 2.24,0a1.12,1.35 0 1,0 -2.24,0M80.67,192.58a1.12,1.35 0 1,0 2.24,0a1.12,1.35 0 1,0 -2.24,0M84.05,192.24a1.12,1.35 0 1,0 2.24,0a1.12,1.35 0 1,0 -2.24,0M87.44,191.90a1.12,1.35 0 1,0 2.24,0a1.12,1.35 0 1,0 -2.24,0M90.84,191.56a1.12,1.35 0 1,0 2.24,0a1.12,1.35 0 1,0 -2.24,0M94.25,191.21a1.12,1.35 0 1,0 2.24,0a1.12,1.35 0 1,0 -2.24,0M97.66,190.87a1.12,1.35 0 1,0 2.24,0a1.12,1.35 0 1,0 -2.24,0M101.09,190.53a1.12,1.35 0 1,0 2.24,0a1.12,1.35 0 1,0 -2.24,0M104.51,190.18a1.12,1.35 0 1,0 2.24,0a1.12,1.35 0 1,0 -2.24,0M107.95,189.83a1.12,1.35 0 1,0 2.24,0a1.12,1.35 0 1,0 -2.24,0M111.39,189.49a1.12,1.35 0 1,0 2.24,0a1.12,1.35 0 1,0 -2.24,0M114.85,189.14a1.12,1.35 0 1,0 2.24,0a1.12,1.35 0 1,0 -2.24,0M118.30,188.79a1.12,1.35 0 1,0 2.24,0a1.12,1.35 0 1,0 -2.24,0M121.77,188.44a1.12,1.35 0 1,0 2.24,0a1.12,1.35 0 1,0 -2.24,0M125.24,188.09a1.12,1.35 0 1,0 2.24,0a1.12,1.35 0 1,0 -2.24,0M128.72,187.74a1.12,1.35 0 1,0 2.24,0a1.12,1.35 0 1,0 -2.24,0M132.21,187.39a1.12,1.35 0 1,0 2.24,0a1.12,1.35 0 1,0 -2.24,0M135.70,187.03a1.12,1.35 0 1,0 2.24,0a1.12,1.35 0 1,0 -2.24,0M139.21,186.68a1.12,1.35 0 1,0 2.24,0a1.12,1.35 0 1,0 -2.24,0M142.72,186.33a1.12,1.35 0 1,0 2.24,0a1.12,1.35 0 1,0 -2.24,0M146.23,185.97a1.12,1.35 0 1,0 2.24,0a1.12,1.35 0 1,0 -2.24,0M149.76,185.62a1.12,1.35 0 1,0 2.24,0a1.12,1.35 0 1,0 -2.24,0M153.29,185.26a1.12,1.35 0 1,0 2.24,0a1.12,1.35 0 1,0 -2.24,0M156.83,184.90a1.12,1.35 0 1,0 2.24,0a1.12,1.35 0 1,0 -2.24,0M160.37,184.55a1.12,1.35 0 1,0 2.24,0a1.12,1.35 0 1,0 -2.24,0M163.93,184.19a1.12,1.35 0 1,0 2.24,0a1.12,1.35 0 1,0 -2.24,0M167.49,183.83a1.12,1.35 0 1,0 2.24,0a1.12,1.35 0 1,0 -2.24,0M171.06,183.47a1.12,1.35 0 1,0 2.24,0a1.12,1.35 0 1,0 -2.24,0M174.63,183.11a1.12,1.35 0 1,0 2.24,0a1.12,1.35 0 1,0 -2.24,0M178.21,182.75a1.12,1.35 0 1,0 2.24,0a1.12,1.35 0 1,0 -2.24,0M181.80,182.38a1.12,1.35 0 1,0 2.24,0a1.12,1.35 0 1,0 -2.24,0M185.40,182.02a1.12,1.35 0 1,0 2.24,0a1.12,1.35 0 1,0 -2.24,0M189.01,181.66a1.12,1.35 0 1,0 2.24,0a1.12,1.35 0 1,0 -2.24,0M192.62,181.29a1.12,1.35 0 1,0 2.24,0a1.12,1.35 0 1,0 -2.24,0M196.24,180.93a1.12,1.35 0 1,0 2.24,0a1.12,1.35 0 1,0 -2.24,0M199.87,180.56a1.12,1.35 0 1,0 2.24,0a1.12,1.35 0 1,0 -2.24,0M203.50,180.20a1.12,1.35 0 1,0 2.24,0a1.12,1.35 0 1,0 -2.24,0M207.14,179.83a1.12,1.35 0 1,0 2.24,0a1.12,1.35 0 1,0 -2.24,0M210.79,179.46a1.12,1.35 0 1,0 2.24,0a1.12,1.35 0 1,0 -2.24,0M214.45,179.09a1.12,1.35 0 1,0 2.24,0a1.12,1.35 0 1,0 -2.24,0M218.11,178.72a1.12,1.35 0 1,0 2.24,0a1.12,1.35 0 1,0 -2.24,0M221.78,178.35a1.12,1.35 0 1,0 2.24,0a1.12,1.35 0 1,0 -2.24,0M225.46,177.98a1.12,1.35 0 1,0 2.24,0a1.12,1.35 0 1,0 -2.24,0" fill="#30331d"/>
<path d="M123,111.7 L173,104.6 Q178,104 178,109.5 L178,145 Q178,149.4 173,150 L123.3,156.9 Q118.3,157.5 118.3,152.3 L118.3,117 Q118.3,112.2 123,111.7 Z" fill="#424242"/>
<path d="M129,122.5 L164,117.9 Q166,117.7 166,119.7 L166,135.5 Q166,137.3 164,137.5 L129,142.2 Q127,142.5 127,140.5 L127,124.5 Q127,122.7 129,122.5 Z" fill="url(#gHandle)"/>
<polygon points="129.0,139.5 164.0,135.0 165.5,137.2 129.0,142.0" fill="#3a3a3a"/>
<polygon points="56.3,67.0 57.5,64.5 60.0,63.0 63.7,62.4 90.0,58.3 160.0,47.2 207.0,39.1 215.5,34.3 228.0,32.0 240.0,30.7 256.5,30.2 275.6,31.6 287.8,33.9 400.0,60.4 483.0,79.9 487.5,81.2 489.6,84.0 489.6,101.3 484.4,98.7 400.0,79.9 323.0,60.5 290.0,54.5 275.3,52.5 262.0,51.7 240.0,52.3 227.8,52.8 160.0,63.8 100.0,73.6 90.0,75.2 72.0,78.0 61.0,79.6 58.0,81.5 56.3,83.2" fill="url(#gBand)"/>
<circle cx="71.6" cy="69.8" r="0.9" fill="#2a2a2a"/>
<circle cx="227" cy="44.8" r="0.9" fill="#2a2a2a"/>
<circle cx="288.6" cy="46.3" r="0.9" fill="#2a2a2a"/>
<circle cx="387.3" cy="68.3" r="0.9" fill="#2a2a2a"/>
<circle cx="477.9" cy="89.5" r="0.9" fill="#2a2a2a"/>
<path d="M299.5,89.8 L466.5,125.6 Q470.7,126.5 470.7,131 L470.7,166 Q470.7,170 466.5,169.3 L299.5,138.9 Q295.6,138.2 295.6,134 L295.6,93.5 Q295.6,89 299.5,89.8 Z" fill="#7afdb1"/>
<polygon points="374.8,117.2 398.0,121.3 398.0,142.3 374.8,138.5" fill="#4786f0"/>
<rect x="375.4" y="120.6" width="3" height="1.0" fill="#dfe8ff" opacity="0.85"/>
<rect x="375.4" y="123.2" width="6.5" height="1.6" fill="#dfe8ff" opacity="0.85"/>
<rect x="375.8" y="125.3" width="6" height="1.2" fill="#dfe8ff" opacity="0.85"/>
<rect x="384.4" y="124.6" width="1.8" height="1.8" fill="#dfe8ff" opacity="0.85"/>
<rect x="387.8" y="123.6" width="2" height="1" fill="#dfe8ff" opacity="0.85"/>
<rect x="387.8" y="125.6" width="8.5" height="1.4" fill="#dfe8ff" opacity="0.85"/>
<rect x="389" y="127.8" width="7.5" height="1.3" fill="#dfe8ff" opacity="0.85"/>
<rect x="375" y="130.4" width="2.3" height="2.5" rx="0.8" fill="#f2f5ff" opacity="0.9"/>
<rect x="378.5" y="133.5" width="2.5" height="2.5" rx="0.8" fill="#f2f5ff" opacity="0.9"/>
<rect x="382.3" y="131.3" width="2.4" height="2.2" rx="0.8" fill="#f2f5ff" opacity="0.9"/>
<rect x="385" y="134.4" width="2.8" height="2.5" rx="0.8" fill="#f2f5ff" opacity="0.9"/>
<rect x="388.4" y="132" width="2.2" height="1.8" rx="0.8" fill="#f2f5ff" opacity="0.9"/>
<rect x="392.8" y="134.1" width="2.5" height="3.7" rx="0.8" fill="#f2f5ff" opacity="0.9"/>
<circle cx="380.4" cy="111.2" r="1.15" fill="#10c060"/>
<circle cx="384.2" cy="111.8" r="1.15" fill="#10c060"/>
<circle cx="388.1" cy="112.4" r="1.15" fill="#10c060"/>
<circle cx="392.5" cy="113.4" r="1.15" fill="#10c060"/>
<rect x="377.5" y="146" width="2.2" height="0.6" fill="#b8f0cc"/>
<rect x="383.5" y="147" width="2.2" height="0.6" fill="#b8f0cc"/>
<rect x="388.5" y="148.2" width="2.2" height="0.6" fill="#b8f0cc"/>
<rect x="394.5" y="149.2" width="2.2" height="0.6" fill="#b8f0cc"/>
<circle cx="377.6" cy="149.3" r="2.25" fill="url(#gBtn2)"/>
<circle cx="383.8" cy="150.8" r="2.25" fill="url(#gBtn2)"/>
<circle cx="389.7" cy="152.1" r="2.25" fill="url(#gBtn2)"/>
<circle cx="395.9" cy="153" r="2.25" fill="url(#gBtn2)"/>
<polygon points="57.0,381.0 240.0,370.7 275.5,373.5 485.0,388.4 478.0,390.0 478.0,395.5 476.0,397.5 420.0,401.5 350.0,403.3 256.0,403.7 256.0,393.5 220.0,392.0 115.6,391.9 67.2,391.0 67.2,382.0" fill="#626262"/>
<polygon points="79.5,380.3 228.0,373.4 236.0,373.6 246.0,375.5 236.0,380.5 226.0,385.2 79.5,389.0" fill="#94948f"/>
<polyline points="232.0,378.5 262.0,380.3 300.0,383.5 478.0,390.5" fill="none" stroke="#7c7c7a" stroke-width="1.6"/>
<polygon points="67.2,382.0 80.0,382.0 80.0,389.0 115.6,388.0 115.6,391.9 67.2,391.0" fill="#666666"/>
<path d="M56.6,284 Q56.6,279 61,278.6 L240,263.4 L240,370.7 L61,381.2 Q56.6,381.4 56.6,377 Z" fill="url(#gBatLeft)"/>
<polygon points="222.0,264.6 261.5,262.3 277.5,263.4 277.5,374.0 240.0,370.7 222.0,371.7" fill="url(#gBatCorner)"/>
<polygon points="277.0,263.4 487.0,289.0 488.7,291.5 488.7,387.5 485.0,388.4 277.0,373.6" fill="#ffffff"/>
<rect x="485.2" y="291" width="3.3" height="97" fill="url(#gRedge)"/>
<polyline points="62.0,280.6 240.0,265.2 261.5,264.0 277.5,265.0 487.0,290.5" fill="none" stroke="#ececec" stroke-width="1.6"/>
<polyline points="60.0,278.9 240.0,263.4 261.5,262.2 277.5,263.2 487.0,288.7" fill="none" stroke="#8e8e8e" stroke-width="0.9"/>
<polygon points="81.0,276.0 216.2,266.4 198.5,291.0 98.7,300.5" fill="url(#gTTb)"/>
<polygon points="97.4,352.8 197.9,346.8 217.6,371.9 81.0,378.7" fill="url(#gTBb)"/>
<circle cx="103" cy="281.5" r="0.9" fill="#f0f0f0"/>
<circle cx="207" cy="272.5" r="0.9" fill="#f0f0f0"/>
<circle cx="104.2" cy="384.6" r="0.8" fill="#555"/>
<circle cx="207.6" cy="379.6" r="0.8" fill="#555"/>
<path d="M331,345.5 L440,352.8 L442.6,356 L440,359.5 L331,352.3 Q328.5,349 331,345.5 Z" fill="#e3e3e3" stroke="#c8c8c8" stroke-width="0.7"/>
<polygon points="56.8,746.6 81.0,748.3 210.0,756.3 230.0,758.0 240.0,758.5 281.0,758.7 487.0,738.6 488.0,739.0 488.0,746.8 290.0,768.3 230.0,767.8 130.0,761.4 56.8,756.5" fill="#3d3d3d"/>
<polyline points="56.8,745.6 81.0,746.8" fill="none" stroke="#b8b8b8" stroke-width="1.6"/>
<path d="M56.8,440 Q56.8,436.4 61,436.4 L205,433 L232,432.4 L232,758 L216,757 L60,746.8 Q56.8,746.6 56.8,744 Z" fill="url(#gStkLeft)"/>
<polygon points="231.0,432.4 250.0,431.3 262.0,431.0 281.0,431.8 281.0,758.7 240.0,758.5 231.0,758.0" fill="url(#gStkCorner)"/>
<polygon points="280.5,431.8 300.0,432.6 487.0,440.6 488.7,442.5 488.7,738.6 487.0,738.6 280.5,758.7" fill="url(#gStkFront)"/>
<line x1="487.8" y1="442" x2="487.8" y2="739" stroke="#d2d2d2" stroke-width="1.2"/>
<path d="M62,437.9 L205,434.6 C235,434 250,432.6 262,432.6 C275,432.6 285,433.2 300,434.2 L487,442.2" fill="none" stroke="#ececec" stroke-width="1.6"/>
<path d="M60,436.3 L205,432.9 C235,432.3 250,430.9 262,430.9 C275,430.9 285,431.5 300,432.5 L487,440.5" fill="none" stroke="#8e8e8e" stroke-width="1"/>
<polyline points="57.6,540.3 320.0,540.2 488.0,538.5" fill="none" stroke="#8e8e8e" stroke-width="1.4"/>
<polyline points="57.6,541.6 320.0,541.5 488.0,539.8" fill="none" stroke="#dedede" stroke-width="0.8"/>
<polyline points="57.6,642.3 216.0,649.3 265.0,649.7 320.0,646.4 488.0,638.0" fill="none" stroke="#8e8e8e" stroke-width="1.4"/>
<polyline points="57.6,643.6 216.0,650.6 265.0,651.0 320.0,647.7 488.0,639.3" fill="none" stroke="#dedede" stroke-width="0.8"/>
<polygon points="81.0,437.8 216.4,434.4 198.0,458.7 99.6,461.8" fill="url(#gTT)"/>
<polygon points="81.0,542.2 217.0,542.2 198.5,565.5 98.7,565.5" fill="url(#gTT)"/>
<polygon points="81.0,646.3 216.2,651.3 198.5,672.8 98.7,670.6" fill="url(#gTT)"/>
<polygon points="98.7,514.3 198.5,513.7 216.2,538.9 81.0,539.4" fill="url(#gTB)"/>
<polygon points="98.7,618.0 198.0,620.7 216.2,648.3 81.0,641.8" fill="url(#gTB)"/>
<polygon points="98.7,723.3 198.0,728.8 216.2,756.3 81.0,748.2" fill="url(#gTB)"/>
<polygon points="82.8,536.8 214.5,536.4 216.2,538.9 81.0,539.4" fill="#bdbdbd"/>
<polygon points="82.8,639.4 214.4,645.6 216.2,648.3 81.0,641.8" fill="#bdbdbd"/>
<polygon points="83.6,744.5 213.7,752.5 215.9,755.9 81.0,748.3" fill="#a9a9a9"/>
<circle cx="103.5" cy="753.8" r="0.9" fill="#888"/><circle cx="206" cy="761" r="0.9" fill="#888"/>
<circle cx="103.0" cy="440.7" r="0.8" fill="#666"/><circle cx="206.4" cy="438.2" r="0.9" fill="#eee"/>
<circle cx="103.0" cy="545.7" r="0.8" fill="#666"/><circle cx="207.0" cy="545.7" r="0.9" fill="#eee"/>
<circle cx="103.0" cy="650.6" r="0.8" fill="#666"/><circle cx="206.2" cy="654.4" r="0.9" fill="#eee"/>
<path d="M331,507.8 L440.6,511.09999999999997 L443.20000000000005,514.3 L440.6,517.5 L331,514.2 Q328,511 331,507.8 Z" fill="#e2e2e2" stroke="#d2d2d2" stroke-width="0.7"/>
<path d="M331,617.0 L440.6,610.8 L443.20000000000005,614 L440.6,617.2 L331,623.4000000000001 Q328,620.2 331,617.0 Z" fill="#e2e2e2" stroke="#d2d2d2" stroke-width="0.7"/>
<path d="M331,723.0999999999999 L440.6,712.8 L443.20000000000005,716 L440.6,719.2 L331,729.5 Q328,726.3 331,723.0999999999999 Z" fill="#e2e2e2" stroke="#d2d2d2" stroke-width="0.7"/>
<ellipse cx="317" cy="793.5" rx="15" ry="4.5" fill="#333"/>
<rect x="299.5" y="764" width="18.5" height="8" fill="#c41c1c"/>
<path d="M276.6,773 Q276.6,771.4 279,771.4 L324.6,771.4 L324.6,791 L279,791 Q276.6,791 276.6,789 Z" fill="#d3d3d3"/>
<path d="M320,765 L331,767 Q336.7,772 336.7,780 Q336.7,788 331,790 L320,790 Z" fill="#dadada"/>
<rect x="282" y="790" width="35" height="2.7" fill="#c41c1c"/>
<rect x="73.5" y="759" width="60.3" height="4" fill="#cfb4b4"/>
<rect x="73.5" y="759" width="6" height="4" fill="#c23a3a"/>
<rect x="112.9" y="759.5" width="20.9" height="4.5" fill="#c82222"/>
<rect x="77.2" y="763" width="5.6" height="5" fill="#b8b8b8"/><rect x="141.2" y="763" width="4.8" height="4.3" fill="#b8b8b8"/>
<rect x="69.5" y="784.5" width="40" height="43" rx="17" ry="16" fill="url(#gTire)"/>
<path d="M72.5,800 Q74,788 82,785.5" fill="none" stroke="#5a5a5a" stroke-width="1"/>
<path d="M89.5,764.8 L137.5,764.8 L137.5,791.9 L139.3,793 L139.3,811.5 Q139.3,814 136.5,814 L112,814 Q108,814 106,816.5 Q102,819 98,816 Q94,812 93,804 Q91,795 86,790 L80,787.5 Q75,788 74.8,786 L76,779.6 Q80,772 89.5,764.8 Z" fill="url(#gBrk)"/>
<path d="M80,787.5 Q86,789 90,793 Q93,798 94,806 L96,813 Q90,814 88,810 Q87,800 80,787.5 Z" fill="#bdbdbd"/>
<rect x="113.5" y="777.8" width="19.7" height="16.6" fill="#cc1c1c"/>
<rect x="113.5" y="785.3" width="19.7" height="1.2" fill="#7a1010"/>
<rect x="111.7" y="814" width="19.6" height="3.3" fill="#c41c1c"/>
<circle cx="105.5" cy="811.6" r="1.2" fill="#aaa"/>
<rect x="212.5" y="770" width="80" height="4.5" fill="#cfb4b4"/>
<rect x="212.5" y="770" width="8" height="4.5" fill="#c23a3a"/>
<rect x="256.5" y="771" width="36" height="4.5" fill="#c82222"/>
<rect x="217" y="774" width="5" height="5" fill="#b8b8b8"/>
<rect x="211.5" y="797.5" width="40" height="44" rx="17" ry="16" fill="url(#gTire)"/>
<path d="M214.5,813 Q216,801 224,798.5" fill="none" stroke="#5a5a5a" stroke-width="1"/>
<path d="M231,776.6 L278,776.6 L278,807.4 L282,808 L282,827 Q282,830 279,830 L255,830 Q251,830 249,832.5 Q244,836 239,832 Q235,827 234,818 Q232,808 226,803 L220,800.5 Q216,801 216,799 L217,793 Q221,785 231,776.6 Z" fill="url(#gBrk)"/>
<path d="M220,800.5 Q227,803 231,808 Q234,813 235,820 L237,829 Q231,831 229,826 Q228,814 220,800.5 Z" fill="#bdbdbd"/>
<rect x="255.6" y="790" width="20.4" height="17.4" fill="#cc1c1c"/>
<rect x="255.6" y="798" width="20.4" height="1.2" fill="#7a1010"/>
<rect x="253.5" y="828" width="20.5" height="3.3" fill="#c41c1c"/>
<circle cx="248" cy="826.5" r="1.2" fill="#aaa"/>
<ellipse cx="454" cy="804.5" rx="15" ry="5" fill="#333"/>
<rect x="417.7" y="751.5" width="55.7" height="3.5" fill="#c83030"/>
<rect x="403" y="754.4" width="5.7" height="4.1" fill="#b8b8b8"/><rect x="463.6" y="752.8" width="5.7" height="4.9" fill="#b8b8b8"/>
<path d="M414.4,755.2 L457,755.2 Q466,765 468.5,782.3 L414.4,782.3 Z" fill="url(#gBrk)"/>
<rect x="432.5" y="767.5" width="24.5" height="15.5" fill="#cc1c1c"/>
<rect x="432.5" y="775" width="24.5" height="1.2" fill="#7a1010"/>
<path d="M409.5,784 Q409.5,781.5 412,781.5 L462,781.5 L462,802.8 L414,802.8 Q409.5,802.8 409.5,798 Z" fill="#d8d8d8"/>
<path d="M460.3,783 L468,784 Q474.3,787 474.3,792 Q474.3,798 468,800.3 L460.3,800.3 Z" fill="#e0e0e0"/>
<rect x="417.7" y="802" width="37.7" height="3.2" fill="#c41c1c"/>
<circle cx="470" cy="167.2" r="7.4" fill="#ffffff" fill-opacity="0.55" stroke="#5d8ae6" stroke-width="1.3"/><polyline points="472.4,164.8 500,138.6 541.1,138.6" fill="none" stroke="#6f98e6" stroke-width="1.25"/><circle cx="470" cy="167.2" r="3.7" fill="#2f66dc"/><rect x="541.1" y="115.5" width="182.9" height="50.5" rx="9" fill="#fefefe" stroke="#a8c0ec" stroke-width="1.6"/><text x="561.2" y="145.8" textLength="142" lengthAdjust="spacingAndGlyphs" font-family="Liberation Sans" font-weight="bold" font-size="17.8" fill="#000" stroke="#000" stroke-width="0.35">5~10kw Inverter</text>
<circle cx="472" cy="330.4" r="7.4" fill="#ffffff" fill-opacity="0.55" stroke="#5d8ae6" stroke-width="1.3"/><polyline points="474.4,328.0 503.4,300.2 541.1,300.2" fill="none" stroke="#6f98e6" stroke-width="1.25"/><circle cx="472" cy="330.4" r="3.7" fill="#2f66dc"/><rect x="541.1" y="275.8" width="183.9" height="50.5" rx="9" fill="#fefefe" stroke="#a8c0ec" stroke-width="1.6"/><text x="576.2" y="305.2" textLength="115.2" lengthAdjust="spacingAndGlyphs" font-family="Liberation Sans" font-weight="bold" font-size="17.8" fill="#000" stroke="#000" stroke-width="0.35">5kwh Battery</text>
<circle cx="472" cy="484.3" r="7.4" fill="#ffffff" fill-opacity="0.55" stroke="#5d8ae6" stroke-width="1.3"/><polyline points="474.4,481.9 503.4,453.3 541.1,453.3" fill="none" stroke="#6f98e6" stroke-width="1.25"/><circle cx="472" cy="484.3" r="3.7" fill="#2f66dc"/><rect x="541.1" y="426.6" width="183.9" height="50.8" rx="9" fill="#fefefe" stroke="#a8c0ec" stroke-width="1.6"/><text x="579.9" y="458.7" textLength="107.6" lengthAdjust="spacingAndGlyphs" font-family="Liberation Sans" font-weight="bold" font-size="17.8" fill="#000" stroke="#000" stroke-width="0.35">High density</text>
<circle cx="470.1" cy="596.8" r="7.4" fill="#ffffff" fill-opacity="0.55" stroke="#5d8ae6" stroke-width="1.3"/><polyline points="472.5,594.4 501.2,567.5 541.1,567.5" fill="none" stroke="#6f98e6" stroke-width="1.25"/><circle cx="470.1" cy="596.8" r="3.7" fill="#2f66dc"/><rect x="541.1" y="541.6" width="182.9" height="50.8" rx="9" fill="#fefefe" stroke="#a8c0ec" stroke-width="1.6"/><text x="576.2" y="573.8" textLength="111.2" lengthAdjust="spacingAndGlyphs" font-family="Liberation Sans" font-weight="bold" font-size="17.8" fill="#000" stroke="#000" stroke-width="0.35">Safety in Use</text>
<circle cx="470.1" cy="691.7" r="7.4" fill="#ffffff" fill-opacity="0.55" stroke="#5d8ae6" stroke-width="1.3"/><polyline points="472.5,689.3 501.2,662.5 541.6,662.5" fill="none" stroke="#6f98e6" stroke-width="1.25"/><circle cx="470.1" cy="691.7" r="3.7" fill="#2f66dc"/><rect x="541.6" y="638.5" width="182.8" height="50.8" rx="9" fill="#fefefe" stroke="#a8c0ec" stroke-width="1.6"/><text x="563.6" y="670.6" textLength="139" lengthAdjust="spacingAndGlyphs" font-family="Liberation Sans" font-weight="bold" font-size="17.8" fill="#000" stroke="#000" stroke-width="0.35">Easy installation</text></svg>
</body></html>
